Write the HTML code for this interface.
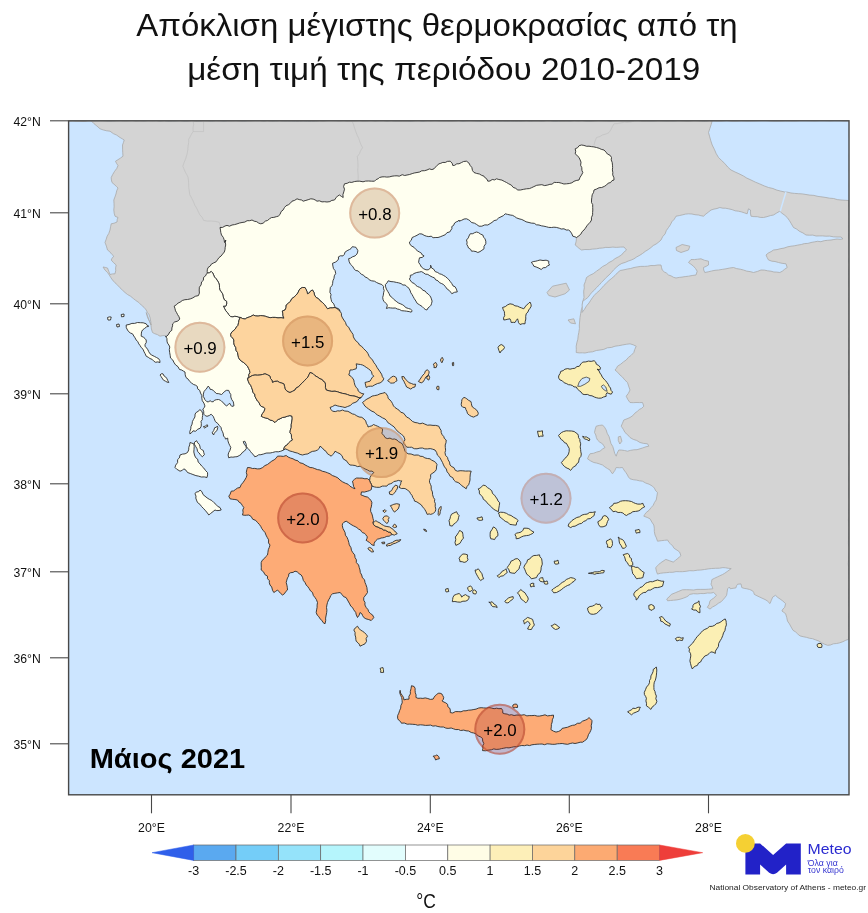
<!DOCTYPE html>
<html><head><meta charset="utf-8"><title>Map</title>
<style>html,body{margin:0;padding:0;background:#fff}svg{display:block;font-family:"Liberation Sans",sans-serif}</style></head>
<body><div style="will-change:transform;transform:translateZ(0)"><svg width="868" height="913" viewBox="0 0 868 913">
<defs><clipPath id="fr"><rect x="68.5" y="121" width="780.5" height="674"/></clipPath></defs>
<rect width="868" height="913" fill="#fff"/>
<rect x="68.5" y="121" width="780.5" height="674" fill="#cce5ff"/>
<g clip-path="url(#fr)">
<g fill="#d4d4d4" stroke="#a9a9a9" stroke-width="0.8" stroke-linejoin="round">
<path d="M68.5,121.0 L72.4,120.6 L76.2,121.2 L79.7,120.9 L83.8,120.9 L87.3,121.0 L91.2,120.8 L93.8,123.5 L97.0,126.1 L100.0,128.8 L103.4,130.0 L106.8,130.8 L110.0,131.2 L113.3,133.6 L116.7,135.1 L120.0,137.5 L122.3,138.8 L124.2,140.0 L123.5,142.3 L122.5,145.0 L122.6,149.1 L122.7,152.3 L123.0,156.2 L120.3,158.2 L118.0,159.7 L115.5,161.2 L116.6,163.5 L118.0,165.5 L116.8,168.4 L114.6,171.3 L112.7,174.5 L111.2,177.5 L111.4,180.0 L112.0,182.5 L113.9,184.1 L116.3,186.3 L118.0,188.0 L116.7,190.8 L116.0,193.9 L115.0,196.8 L113.8,200.0 L114.0,203.2 L114.1,206.8 L113.8,210.0 L114.2,213.2 L115.0,216.2 L118.0,217.5 L117.2,219.7 L117.0,222.0 L114.1,223.2 L111.2,223.8 L110.6,226.7 L110.0,230.0 L108.8,233.4 L107.1,236.3 L106.1,239.5 L105.0,242.5 L106.4,246.1 L107.5,250.0 L109.7,251.7 L111.8,254.3 L113.8,256.2 L112.1,258.2 L111.2,260.0 L113.6,262.7 L116.2,265.0 L115.6,267.9 L115.7,270.6 L115.0,273.8 L112.6,273.9 L110.0,274.5 L108.8,271.4 L107.5,268.0 L105.2,267.4 L103.0,267.0 L105.1,270.2 L107.5,272.5 L109.3,275.0 L110.8,277.6 L112.5,280.0 L115.0,282.8 L117.7,285.2 L119.8,287.6 L122.5,290.2 L125.0,292.5 L127.5,294.5 L130.5,296.2 L133.3,298.5 L135.7,300.4 L138.8,302.5 L141.3,305.1 L144.0,307.3 L146.2,310.0 L147.5,312.7 L149.0,314.6 L150.0,317.5 L150.7,321.2 L151.2,325.0 L149.7,321.8 L148.5,319.1 L147.5,315.6 L146.2,312.5 L147.2,316.2 L148.4,319.1 L150.0,322.5 L151.0,325.6 L151.4,329.0 L152.5,332.5 L154.7,333.7 L157.4,334.6 L160.0,336.2 L162.9,335.6 L166.2,335.5 L169.8,333.5 L173.4,331.9 L176.9,329.7 L180.2,328.0 L183.7,326.2 L187.3,323.9 L190.6,322.6 L194.1,320.3 L197.7,318.3 L201.0,316.3 L204.6,314.6 L208.5,312.9 L211.7,311.2 L215.1,309.1 L218.8,307.1 L222.3,305.2 L225.5,303.7 L229.0,301.2 L232.7,299.4 L235.9,297.7 L239.9,295.8 L243.1,294.0 L246.3,292.0 L250.0,290.0 L253.2,288.1 L256.7,285.9 L260.0,284.0 L263.5,281.5 L266.9,279.9 L270.3,277.4 L273.8,275.3 L277.0,273.5 L280.6,271.5 L284.0,269.8 L287.1,267.4 L290.7,265.5 L294.2,263.5 L297.4,261.2 L301.1,259.4 L304.3,257.3 L307.8,254.9 L311.3,252.9 L314.6,251.4 L318.2,249.1 L321.9,247.1 L325.0,245.3 L328.3,242.6 L331.9,241.3 L335.2,239.1 L338.7,236.8 L342.1,234.5 L345.4,233.1 L348.7,230.6 L352.1,228.5 L355.7,226.1 L359.1,224.8 L362.2,222.5 L365.9,220.7 L369.0,218.5 L372.7,216.3 L376.1,214.2 L379.6,211.8 L382.8,210.6 L386.2,208.3 L389.7,206.3 L393.0,204.2 L396.3,201.8 L400.0,200.0 L404.0,199.9 L407.8,200.0 L411.5,200.1 L415.4,199.6 L419.3,200.0 L423.6,199.8 L427.1,199.8 L431.3,199.8 L435.1,200.1 L439.1,200.2 L443.0,199.6 L446.5,199.8 L450.5,199.9 L454.4,199.8 L458.6,200.0 L462.0,200.1 L466.2,199.8 L470.1,200.0 L473.8,199.9 L477.6,200.1 L482.0,200.1 L485.7,199.9 L489.6,200.4 L493.3,200.4 L497.5,200.2 L500.9,200.1 L505.3,199.9 L509.0,200.0 L512.9,201.3 L516.1,202.9 L519.9,204.2 L523.5,205.4 L527.0,207.5 L530.9,208.9 L534.8,210.0 L538.2,212.1 L541.5,213.5 L545.4,214.4 L549.0,216.3 L552.9,217.6 L556.5,218.9 L560.3,220.4 L564.0,221.9 L567.5,223.8 L571.0,225.0 L572.6,227.8 L573.8,231.1 L575.3,234.2 L576.5,237.5 L576.2,241.2 L575.2,245.0 L577.1,246.6 L579.1,248.4 L581.5,250.0 L584.9,249.5 L589.2,249.6 L592.5,249.1 L596.5,248.8 L599.7,248.2 L602.6,248.0 L605.8,247.4 L609.0,247.5 L612.9,247.1 L616.3,247.4 L620.5,247.1 L624.0,247.0 L626.5,250.0 L623.6,252.4 L621.5,255.0 L618.5,256.8 L615.1,258.6 L612.3,260.8 L609.0,262.5 L606.2,264.7 L602.6,266.5 L599.5,269.1 L596.5,271.2 L593.2,273.7 L589.6,275.4 L586.5,277.5 L585.4,281.5 L584.0,285.0 L584.3,287.8 L583.7,291.1 L583.8,294.2 L584.0,297.5 L582.8,301.2 L582.4,303.9 L582.5,306.2 L581.3,309.8 L580.6,313.8 L580.0,317.5 L579.7,321.0 L579.3,325.0 L579.4,328.6 L578.8,332.5 L578.2,335.7 L577.8,339.3 L576.8,342.9 L576.2,346.2 L576.3,349.6 L576.2,352.5 L579.3,352.9 L582.3,352.8 L585.0,353.0 L588.6,352.2 L592.5,351.8 L596.3,350.5 L600.0,350.0 L603.7,349.4 L607.4,347.8 L611.6,347.4 L615.0,346.2 L618.8,345.7 L622.3,345.0 L626.2,344.3 L630.0,343.8 L633.2,344.8 L636.2,346.2 L634.7,349.6 L633.8,352.5 L631.3,355.2 L628.5,357.3 L626.2,360.0 L623.4,361.9 L620.7,364.2 L617.5,366.2 L616.5,368.2 L615.0,370.0 L617.7,372.3 L620.0,375.0 L622.5,377.1 L625.0,380.2 L627.5,382.5 L628.6,386.0 L630.0,390.0 L628.4,393.3 L626.2,396.2 L628.0,399.8 L630.0,402.5 L633.2,402.7 L636.0,402.5 L639.7,402.6 L642.5,402.5 L643.8,406.2 L641.7,408.3 L639.3,409.5 L637.5,411.2 L634.7,413.3 L632.8,415.6 L630.0,417.5 L627.0,418.8 L623.8,420.0 L622.5,423.2 L621.2,426.2 L623.2,429.1 L625.0,432.5 L627.9,435.0 L630.0,437.5 L633.3,439.4 L636.6,440.4 L640.0,442.5 L643.6,443.4 L647.5,443.8 L648.8,446.2 L645.8,446.8 L642.8,447.9 L640.0,448.8 L637.0,449.7 L633.8,449.8 L630.4,450.4 L627.5,451.2 L624.5,450.5 L621.5,450.1 L618.8,450.0 L617.2,453.1 L616.2,456.2 L614.7,453.4 L613.8,450.0 L612.8,446.6 L610.9,443.4 L610.0,440.0 L609.1,436.7 L607.2,433.3 L606.2,430.0 L604.5,427.2 L602.5,425.0 L599.4,425.4 L596.2,426.2 L595.2,429.2 L594.5,432.5 L595.8,435.0 L596.4,437.7 L597.5,440.0 L599.7,442.1 L602.5,443.8 L603.6,445.5 L605.0,447.5 L602.5,449.0 L600.0,451.2 L596.8,452.0 L593.7,453.2 L590.0,453.8 L588.7,456.0 L587.5,458.8 L590.4,460.8 L593.8,462.5 L596.8,463.1 L599.4,463.9 L602.5,465.0 L604.8,466.8 L607.5,468.6 L610.0,470.0 L610.9,471.8 L612.5,473.8 L614.8,470.5 L616.2,467.5 L619.4,467.8 L622.5,467.5 L623.9,469.9 L625.9,472.6 L627.5,475.0 L628.4,476.9 L630.0,478.8 L633.2,479.7 L636.5,480.1 L639.4,480.8 L642.5,481.2 L645.8,483.1 L649.1,484.2 L652.5,486.2 L654.4,488.1 L655.7,490.8 L657.5,492.5 L656.9,496.1 L656.2,500.0 L654.5,502.4 L653.2,505.3 L651.2,507.5 L649.0,510.3 L646.2,512.5 L644.7,514.5 L643.8,516.2 L647.1,517.4 L650.0,518.8 L651.8,522.0 L653.8,525.0 L654.3,528.2 L654.3,531.4 L655.0,535.0 L656.4,537.9 L657.5,541.2 L661.2,540.7 L664.5,540.3 L667.6,540.0 L668.9,542.3 L670.4,543.7 L672.7,546.0 L674.1,548.3 L677.1,550.2 L679.6,552.0 L680.9,555.7 L679.4,557.0 L677.8,558.4 L675.4,560.4 L673.2,562.1 L669.4,560.7 L665.8,559.4 L663.0,561.3 L660.3,563.0 L657.8,565.5 L655.7,567.6 L656.4,571.2 L657.5,574.1 L660.2,573.3 L663.4,572.9 L666.2,572.7 L669.5,572.3 L672.8,572.3 L676.1,571.6 L679.6,571.7 L682.5,571.7 L686.1,571.3 L689.7,570.7 L693.3,570.8 L697.4,570.2 L700.9,570.0 L704.5,569.5 L708.3,568.9 L711.7,568.5 L715.4,568.3 L719.5,568.2 L722.9,567.6 L725.7,567.8 L728.3,568.3 L731.2,568.6 L727.9,571.0 L724.8,573.2 L722.6,574.5 L719.7,575.8 L717.4,576.9 L714.7,578.2 L711.9,579.6 L711.5,582.3 L711.0,584.2 L712.1,586.3 L712.8,588.8 L708.5,589.2 L705.1,589.4 L700.8,589.4 L696.9,589.4 L693.7,590.0 L689.8,589.8 L686.3,589.7 L682.4,589.8 L678.8,591.3 L675.2,592.8 L671.3,594.4 L669.0,597.0 L666.7,599.0 L667.6,600.8 L670.6,600.5 L673.5,600.2 L676.9,599.9 L680.2,599.2 L683.3,598.2 L686.1,597.1 L688.0,596.1 L689.8,594.4 L693.5,593.7 L697.5,593.9 L700.8,593.5 L703.9,593.6 L707.5,593.0 L710.7,593.1 L713.7,592.5 L716.5,595.3 L713.7,598.1 L711.6,599.5 L710.0,600.8 L709.1,604.5 L707.3,607.3 L710.0,609.1 L712.5,607.0 L715.6,605.4 L718.3,603.3 L721.1,601.8 L723.0,599.8 L724.8,597.7 L726.6,595.3 L727.1,592.3 L727.6,588.8 L729.4,587.0 L730.3,588.8 L733.0,588.3 L735.9,587.9 L736.5,585.8 L737.7,584.2 L741.0,583.9 L741.8,587.6 L744.3,588.4 L746.9,588.8 L749.6,589.5 L752.4,590.7 L753.7,592.4 L754.3,594.4 L757.0,595.8 L759.8,597.1 L762.1,598.2 L765.0,599.5 L767.2,600.8 L770.0,603.6 L771.3,600.4 L772.7,597.1 L775.5,595.3 L777.8,597.5 L780.1,599.0 L782.8,601.0 L785.6,603.6 L784.7,607.3 L782.9,609.1 L781.9,611.0 L783.7,612.3 L785.6,613.7 L786.7,617.3 L787.5,621.1 L789.5,624.0 L791.1,627.0 L793.0,630.3 L795.7,632.0 L797.8,634.1 L800.0,635.9 L803.1,636.7 L806.3,637.3 L809.3,638.2 L812.5,638.7 L815.7,639.9 L819.0,641.1 L821.4,642.7 L824.5,644.2 L827.6,645.3 L830.4,645.0 L833.4,643.8 L836.6,643.5 L839.5,642.9 L842.9,641.7 L845.7,640.3 L848.6,639.3 L848.9,635.4 L848.9,631.4 L848.5,627.5 L848.5,623.2 L848.7,619.2 L848.5,615.6 L849.0,611.6 L848.9,607.6 L848.5,603.5 L848.6,599.6 L848.8,595.2 L848.5,591.3 L848.9,587.3 L849.0,583.5 L848.8,579.6 L848.7,575.6 L848.5,571.8 L848.6,567.6 L848.3,563.7 L848.6,559.5 L848.7,555.6 L849.1,551.7 L849.1,547.6 L848.4,543.9 L848.5,539.6 L848.7,535.7 L848.8,531.8 L848.9,527.6 L848.7,523.8 L848.4,519.9 L849.0,515.7 L848.6,511.5 L848.9,507.8 L849.1,503.7 L849.1,499.6 L848.8,496.0 L848.7,491.9 L848.7,487.5 L849.1,484.0 L848.5,480.0 L848.7,475.6 L848.9,471.9 L849.1,468.0 L848.7,464.0 L848.5,459.8 L848.8,455.9 L849.1,452.2 L848.8,447.6 L848.8,444.2 L849.0,439.8 L849.1,436.0 L848.8,431.8 L848.6,427.8 L848.7,423.8 L849.2,420.1 L848.7,415.9 L848.8,412.1 L848.6,407.8 L848.8,404.2 L848.8,400.2 L849.1,396.3 L848.5,392.2 L848.7,388.4 L849.0,384.4 L848.7,380.0 L848.7,376.3 L848.4,372.0 L849.1,368.0 L849.1,363.9 L848.9,360.4 L849.0,356.5 L848.5,352.0 L849.1,348.3 L849.0,344.3 L848.6,340.2 L849.2,336.5 L848.7,332.5 L848.8,328.1 L848.9,324.3 L848.8,320.3 L849.1,316.1 L848.7,312.5 L849.0,308.4 L848.9,304.2 L848.6,300.4 L848.9,296.5 L848.8,292.6 L849.1,288.7 L848.7,284.4 L848.6,280.6 L848.9,276.2 L848.6,272.7 L848.8,268.6 L849.3,264.7 L848.6,260.5 L849.2,256.6 L848.8,252.7 L848.9,248.9 L848.9,244.7 L848.8,240.8 L848.5,236.8 L848.7,232.5 L848.6,228.8 L848.7,224.5 L848.8,220.9 L849.2,216.6 L848.8,212.4 L849.0,208.7 L848.6,204.8 L848.8,201.0 L848.9,196.9 L849.1,192.7 L849.1,188.6 L849.2,184.7 L849.2,180.5 L849.2,176.7 L849.0,173.1 L848.8,169.1 L849.2,165.1 L849.4,160.8 L848.9,156.9 L849.0,152.8 L849.1,149.0 L849.4,144.9 L849.2,141.2 L848.8,137.2 L848.9,133.0 L848.9,129.1 L849.1,124.9 L849.0,121.0 L844.9,121.3 L841.3,120.7 L836.9,120.7 L832.9,121.2 L829.3,121.0 L825.2,121.4 L821.0,121.2 L817.4,121.1 L812.9,120.7 L809.4,121.3 L805.1,120.7 L801.3,121.1 L797.2,121.1 L793.2,120.8 L789.6,121.1 L785.5,120.8 L781.4,120.8 L777.3,120.6 L773.3,121.1 L769.2,121.0 L765.5,120.6 L761.5,120.8 L757.7,120.9 L753.3,120.6 L749.6,120.9 L745.4,120.8 L741.2,120.7 L737.8,120.8 L733.5,120.8 L729.4,120.8 L725.8,121.2 L721.7,121.2 L717.6,121.3 L713.7,121.4 L709.5,120.8 L705.5,121.4 L701.4,121.2 L697.7,120.8 L693.8,120.7 L689.7,121.1 L685.6,121.1 L682.0,120.9 L677.9,120.8 L673.9,121.2 L669.9,121.1 L665.9,121.2 L661.8,121.0 L658.0,120.8 L653.9,121.2 L650.0,121.2 L646.2,121.1 L642.0,121.1 L638.2,120.7 L634.0,120.8 L630.2,121.2 L625.9,120.9 L622.3,120.9 L618.0,120.7 L614.0,120.9 L610.2,121.3 L606.3,121.0 L601.8,120.9 L598.4,120.7 L594.0,121.0 L590.0,121.3 L586.0,121.2 L582.0,120.6 L578.0,120.9 L574.3,120.6 L570.1,121.2 L566.1,121.0 L562.0,121.1 L558.4,121.2 L554.2,121.4 L550.3,120.8 L546.4,120.7 L542.5,121.3 L538.4,121.0 L534.3,121.0 L530.7,121.3 L526.3,120.9 L522.2,121.3 L518.4,121.3 L514.7,121.3 L510.5,121.2 L506.8,121.3 L502.4,121.2 L498.8,121.2 L494.5,120.8 L490.9,121.2 L486.3,120.6 L482.5,121.1 L478.6,121.4 L474.7,121.0 L470.6,120.8 L466.6,120.9 L462.8,121.4 L458.8,120.6 L454.9,121.0 L450.6,121.1 L446.8,121.0 L442.9,121.0 L438.7,120.9 L434.6,120.6 L430.9,120.9 L427.1,120.7 L422.6,121.4 L418.9,120.7 L415.0,120.8 L411.2,121.4 L407.0,121.1 L402.9,121.1 L399.0,121.1 L394.9,121.2 L391.2,120.7 L387.2,121.2 L383.1,120.6 L379.1,120.7 L375.1,121.1 L371.3,120.6 L367.2,120.9 L363.3,121.0 L359.1,120.6 L355.1,120.9 L351.5,120.9 L347.1,121.1 L343.6,120.7 L339.0,121.0 L335.3,120.7 L331.6,120.6 L327.3,120.7 L323.4,121.1 L319.6,120.9 L315.7,121.3 L311.4,121.4 L307.4,121.4 L303.5,121.2 L299.7,121.3 L295.6,121.4 L291.3,121.2 L287.4,121.2 L283.3,121.2 L279.4,120.8 L275.7,121.2 L271.5,121.3 L267.4,120.7 L263.9,121.3 L259.8,120.7 L255.5,120.7 L252.0,120.9 L247.4,121.0 L243.8,121.4 L239.8,121.1 L235.9,120.8 L231.7,121.0 L227.6,121.0 L224.0,121.4 L220.0,121.0 L215.8,120.8 L211.7,121.4 L207.8,121.0 L203.8,120.9 L200.0,121.2 L195.9,121.3 L191.8,120.6 L188.0,121.3 L184.0,121.4 L179.9,120.8 L176.2,121.2 L172.3,121.3 L167.9,121.4 L164.3,120.8 L159.9,121.3 L156.4,120.7 L152.2,120.9 L148.0,120.7 L144.2,121.2 L140.0,120.9 L135.9,121.1 L132.4,120.6 L128.1,120.9 L124.4,121.0 L120.0,120.7 L116.3,120.9 L112.4,121.2 L108.2,121.3 L104.1,120.9 L100.6,120.8 L96.3,121.0 L92.5,121.0 L88.1,120.7 L84.6,121.4 L80.2,121.2 L76.3,120.9 L72.3,121.1Z"/>
<path d="M547.0,292.5 L552.5,286.2 L566.2,283.2 L569.5,290.0 L565.0,293.8 L555.0,297.0 L548.8,295.5Z"/>
<path d="M568.0,320.0 L573.8,318.8 L575.5,323.8 L570.5,323.0Z"/>
</g>
<g fill="#cce5ff" stroke="#a9a9a9" stroke-width="0.8" stroke-linejoin="round">
<path d="M712.2,120.8 L711.2,124.4 L709.8,128.7 L708.5,132.5 L709.7,136.8 L710.8,140.8 L712.2,145.0 L714.3,149.2 L716.1,153.4 L718.5,157.5 L721.7,160.6 L724.7,163.4 L727.7,167.0 L731.0,170.0 L735.1,172.0 L738.9,173.7 L743.3,175.9 L746.8,178.1 L751.0,180.0 L755.5,182.2 L759.7,183.9 L764.2,185.9 L768.5,187.5 L772.9,188.5 L776.8,190.1 L780.4,191.0 L784.8,192.0 L787.7,192.2 L791.0,193.0 L794.6,193.4 L798.8,193.7 L802.2,193.9 L806.0,194.5 L809.7,195.1 L813.9,195.4 L817.9,196.4 L822.0,196.9 L826.0,197.5 L829.7,198.2 L833.6,198.5 L837.3,199.6 L841.0,200.0 L845.2,200.3 L849.5,200.5 L849.4,195.6 L849.4,190.5 L849.3,185.4 L849.5,180.4 L849.6,175.5 L849.3,170.6 L849.4,165.3 L849.4,160.3 L849.3,155.4 L849.7,150.7 L849.8,145.6 L849.6,140.6 L849.3,135.4 L849.3,130.7 L849.6,125.9 L849.5,120.8 L844.7,120.9 L839.5,120.6 L834.7,120.5 L829.7,120.7 L824.8,120.5 L820.1,120.5 L815.0,120.7 L810.4,120.6 L805.3,120.5 L800.5,120.5 L795.4,120.8 L790.8,120.8 L785.7,120.7 L780.7,120.9 L775.7,121.0 L771.0,120.9 L766.1,120.5 L761.3,120.5 L756.6,120.7 L751.4,120.8 L746.5,120.9 L741.4,120.7 L736.7,121.0 L731.8,121.0 L726.7,120.5 L721.9,120.9 L717.3,121.0Z"/>
<path d="M582.0,312.5 L582.4,308.5 L582.1,305.1 L582.8,301.2 L585.5,299.3 L587.8,297.5 L590.0,294.7 L591.8,292.3 L594.3,290.2 L596.5,287.5 L599.0,285.3 L601.3,282.6 L603.9,280.0 L606.2,277.5 L609.0,275.0 L611.4,272.5 L613.7,269.8 L616.1,267.5 L619.0,265.0 L621.9,263.4 L625.3,262.4 L628.1,261.1 L631.1,260.1 L634.0,258.8 L636.6,257.0 L639.9,255.2 L642.5,253.5 L645.2,251.4 L648.4,249.5 L651.0,247.5 L653.3,245.5 L656.1,244.0 L658.8,242.0 L661.0,240.0 L662.7,236.6 L665.1,233.9 L666.3,230.6 L668.5,227.5 L670.3,224.9 L671.9,221.7 L674.3,219.2 L676.0,216.2 L679.3,215.6 L682.3,214.9 L685.6,214.1 L688.5,213.8 L691.9,214.0 L695.1,214.7 L698.5,215.0 L700.9,215.7 L703.5,216.2 L705.9,214.0 L708.4,212.1 L711.0,210.0 L714.0,209.1 L717.0,208.5 L719.8,207.5 L722.8,208.2 L725.4,208.2 L728.5,208.8 L732.0,209.6 L735.2,210.8 L738.5,211.2 L741.5,211.9 L744.5,212.9 L747.2,213.8 L747.8,211.3 L748.5,208.8 L750.5,210.0 L750.4,213.1 L751.0,216.2 L753.9,216.6 L757.4,216.7 L760.2,217.4 L763.5,217.5 L766.9,216.7 L770.4,215.6 L773.5,215.0 L776.4,213.2 L779.8,211.2 L782.0,213.3 L784.8,215.3 L787.2,217.5 L789.5,220.7 L791.4,223.9 L793.5,227.5 L796.7,229.1 L799.6,231.4 L802.9,232.9 L806.0,235.0 L809.5,235.2 L812.8,235.1 L816.1,236.0 L819.5,235.9 L822.6,235.9 L826.0,236.2 L829.5,236.1 L833.4,236.8 L837.0,237.0 L841.0,237.0 L843.0,238.8 L840.1,239.3 L837.0,239.0 L833.9,239.5 L831.0,240.0 L827.6,240.3 L824.5,240.6 L820.9,241.7 L817.6,241.3 L814.3,241.9 L811.0,242.5 L807.9,243.4 L804.3,243.6 L801.3,244.5 L797.7,245.1 L794.3,245.8 L791.0,246.2 L787.7,246.8 L784.0,248.1 L780.8,248.6 L777.0,249.6 L773.5,250.0 L771.1,251.6 L768.2,253.1 L766.0,255.0 L767.2,257.6 L768.5,260.0 L771.9,261.2 L775.0,261.5 L778.5,262.5 L782.0,263.3 L786.0,263.8 L787.2,267.5 L784.7,269.2 L782.3,271.2 L779.8,272.5 L776.6,272.1 L773.9,272.0 L771.0,271.2 L767.6,270.8 L764.3,270.1 L761.0,270.0 L757.5,271.4 L753.5,272.5 L750.1,271.6 L746.6,271.1 L743.5,270.0 L740.2,269.2 L736.6,268.6 L733.5,267.5 L729.7,268.0 L726.0,268.8 L722.2,269.4 L718.5,270.0 L715.0,270.3 L711.5,271.0 L708.3,271.8 L704.8,272.5 L703.7,270.0 L703.5,267.5 L706.0,266.4 L708.5,265.0 L708.5,261.2 L704.5,260.3 L701.0,258.8 L697.5,259.2 L694.4,259.6 L691.0,259.5 L688.5,262.5 L690.9,264.2 L693.5,266.2 L695.5,268.5 L697.2,271.2 L696.0,275.0 L692.2,275.5 L688.5,276.2 L685.2,276.6 L682.0,277.1 L679.2,277.4 L676.0,278.0 L673.5,277.3 L671.1,275.9 L668.5,275.0 L666.4,273.0 L664.4,272.0 L662.2,270.0 L661.6,267.8 L661.0,265.0 L657.8,265.0 L654.1,265.6 L651.0,265.5 L647.5,266.2 L644.5,266.4 L640.8,266.4 L637.2,266.9 L634.0,267.5 L630.6,268.5 L627.4,269.0 L624.0,269.8 L620.2,270.5 L617.3,272.9 L615.0,275.5 L611.8,278.3 L609.0,280.5 L606.7,282.8 L603.8,285.6 L601.8,287.9 L599.1,290.9 L596.5,293.0 L594.2,295.4 L592.4,297.8 L590.7,300.3 L589.0,303.0 L586.5,305.9 L584.4,309.5Z"/>
</g>
<path d="M786.0,192.0 L783.5,200.0 L780.2,211.2" fill="none" stroke="#cce5ff" stroke-width="1.5"/>
<path d="M676.0,247.5 L682.2,244.5 L689.8,246.2 L688.5,250.0 L681.0,252.5 L676.5,250.5Z" fill="#d4d4d4" stroke="#a9a9a9" stroke-width="0.8"/>
<g fill="none" stroke="#c3c3c3" stroke-width="0.8">
<path d="M193.2,121.2 L193.6,124.6 L193.0,128.0 L193.2,131.6 L191.4,134.1 L190.3,136.5 L188.7,139.2 L188.7,142.5 L188.1,145.8 L187.8,149.6 L187.3,153.0 L186.4,156.5 L185.4,159.4 L184.0,162.7 L182.8,166.2 L183.9,168.8 L185.3,172.0 L186.7,174.5 L188.0,177.2 L188.5,180.8 L188.7,184.1 L188.7,187.4 L189.3,190.9 L189.7,194.5 L191.7,198.1 L193.3,201.3 L194.8,205.2 L196.6,208.1 L198.4,211.8 L199.8,214.8 L202.1,217.2 L203.6,220.4 L207.7,221.1 L211.3,221.0 L215.3,221.4 L219.1,222.2 L219.8,224.7 L220.9,227.3"/>
<path d="M203.6,121 L203.6,131.6 L193.2,131.6"/>
<path d="M352.2,121.2 L353.6,124.7 L354.6,128.2 L356.0,132.2 L357.4,135.7 L358.8,138.5 L359.9,142.0 L361.0,144.6 L362.6,147.8 L360.6,150.5 L359.5,153.6 L357.4,156.5 L357.7,160.0 L357.9,163.3 L358.0,167.0 L357.7,170.2 L358.1,173.9 L358.2,177.0 L358.1,180.7"/>
<path d="M634.0,121.2 L630.8,121.9 L627.6,122.4 L624.3,122.2 L620.8,122.9 L617.2,123.6 L614.0,123.8 L612.3,126.8 L610.8,129.8 L609.0,132.5 L605.9,134.1 L602.6,134.9 L599.9,136.5 L596.5,137.5 L595.0,141.3 L594.0,145.0"/>
</g>
<g stroke="#2c2c2c" stroke-width="0.9" stroke-linejoin="round">
<path d="M207.3,273.1 L207.2,271.4 L207.3,269.8 L208.0,267.6 L210.3,266.0 L211.3,264.2 L213.7,262.9 L216.1,261.8 L217.4,259.9 L219.0,257.6 L221.0,256.1 L222.6,254.1 L224.3,252.0 L225.0,249.7 L225.2,247.3 L225.7,245.0 L225.4,242.2 L225.8,240.0 L224.5,242.5 L224.2,239.9 L223.3,237.4 L221.5,235.0 L220.8,232.5 L220.5,230.1 L220.0,227.5 L222.6,227.4 L225.0,226.0 L227.0,225.4 L229.5,226.2 L232.0,225.0 L234.6,224.6 L237.0,223.9 L239.6,223.0 L242.0,222.5 L244.8,222.1 L247.1,220.7 L249.7,220.7 L252.0,220.0 L254.2,221.2 L256.7,221.7 L258.7,223.1 L260.8,223.8 L263.1,223.2 L265.4,221.1 L267.5,220.5 L269.5,218.8 L271.4,217.6 L273.8,217.4 L276.3,216.7 L278.2,216.2 L280.0,214.5 L281.1,211.6 L283.0,210.1 L284.5,207.5 L286.0,205.8 L288.5,204.7 L290.3,203.3 L292.0,201.2 L294.6,200.4 L297.0,198.8 L299.2,199.6 L301.6,200.0 L303.2,201.2 L305.9,200.4 L308.2,199.7 L310.8,198.8 L313.2,199.1 L315.1,199.9 L317.0,201.2 L319.3,200.8 L322.0,201.9 L324.5,201.7 L327.0,202.0 L329.9,201.6 L331.8,200.4 L334.5,200.0 L336.0,197.8 L337.5,196.1 L339.5,195.0 L341.5,196.5 L343.2,197.5 L342.9,194.7 L343.8,191.9 L344.5,189.2 L343.6,186.6 L344.5,183.8 L347.2,183.3 L349.3,182.2 L351.8,182.4 L354.3,181.6 L357.0,181.2 L359.8,181.2 L363.0,181.8 L365.6,181.1 L368.7,181.0 L371.6,181.2 L374.5,181.2 L376.1,179.6 L378.2,178.7 L379.5,177.5 L382.0,176.9 L384.7,176.8 L386.8,177.1 L389.4,176.9 L392.0,176.2 L394.5,175.9 L397.0,175.8 L399.3,176.2 L402.2,174.7 L404.7,175.5 L407.0,175.0 L409.6,174.5 L412.2,173.6 L414.2,173.0 L417.0,172.5 L419.7,172.0 L421.7,170.8 L424.5,170.7 L427.0,170.0 L429.4,168.9 L431.9,169.6 L434.0,168.8 L435.6,167.0 L437.2,165.3 L439.0,163.8 L440.8,163.3 L442.8,162.4 L445.2,162.5 L447.4,161.4 L450.2,161.2 L452.1,163.2 L452.8,165.5 L454.7,165.3 L456.8,163.8 L459.0,163.8 L461.6,162.5 L463.6,161.5 L466.5,161.2 L468.9,163.0 L470.2,165.5 L471.8,167.4 L472.5,170.6 L474.0,172.5 L476.5,173.4 L479.4,174.0 L481.6,175.3 L484.0,176.2 L485.3,178.0 L487.0,179.2 L487.8,181.2 L490.0,181.0 L492.2,179.5 L494.6,179.9 L496.5,178.8 L498.8,179.5 L501.9,180.1 L504.3,181.4 L506.5,182.5 L508.7,183.8 L511.3,185.1 L513.2,187.4 L515.6,188.3 L517.8,190.0 L520.4,190.0 L523.7,189.3 L526.5,188.8 L529.4,188.6 L531.6,187.7 L533.9,186.6 L536.7,185.3 L539.0,185.0 L541.8,184.7 L544.7,185.6 L547.8,185.0 L549.9,184.3 L552.0,184.2 L554.2,182.4 L556.5,182.5 L558.8,182.5 L561.4,183.2 L563.9,184.0 L566.5,183.8 L569.3,183.5 L571.9,182.8 L574.0,181.3 L576.2,180.5 L579.0,180.0 L580.1,177.2 L581.5,175.1 L582.8,172.5 L581.9,170.3 L581.8,167.6 L580.6,165.3 L581.0,162.2 L580.2,160.0 L579.0,157.4 L577.1,155.5 L575.2,153.8 L575.7,151.3 L575.2,148.8 L577.6,147.7 L579.1,145.7 L581.5,145.0 L583.9,145.4 L586.7,146.3 L589.0,146.2 L591.3,146.6 L593.9,146.9 L596.5,147.5 L599.2,148.3 L601.2,149.3 L604.0,150.0 L606.0,152.1 L607.4,154.0 L610.2,155.4 L611.5,157.5 L611.2,159.9 L612.2,162.4 L612.5,165.2 L612.6,167.5 L612.4,169.9 L612.8,172.5 L612.7,174.9 L613.9,177.7 L614.0,180.0 L612.0,180.6 L610.5,182.6 L608.2,183.1 L606.5,185.0 L604.3,186.4 L601.7,187.5 L599.1,187.7 L596.6,189.0 L594.0,190.0 L593.6,192.3 L592.2,194.8 L591.8,197.5 L591.5,200.0 L591.5,202.6 L592.7,204.6 L592.7,207.5 L592.8,210.0 L592.6,212.5 L592.6,214.8 L591.4,217.7 L591.5,220.0 L590.2,222.2 L588.6,223.8 L586.9,225.8 L585.4,228.2 L584.0,230.0 L582.1,231.7 L580.8,234.2 L578.9,235.8 L576.5,237.5 L574.9,236.8 L572.8,236.2 L571.9,233.9 L570.2,231.2 L568.6,230.0 L566.2,230.0 L564.0,228.8 L561.2,229.0 L559.3,228.2 L556.3,227.4 L553.9,227.2 L551.5,227.5 L548.7,227.4 L546.6,226.8 L543.9,226.2 L541.4,225.8 L539.0,225.0 L536.4,224.8 L534.3,223.3 L531.3,223.1 L529.0,222.5 L526.1,221.8 L524.2,220.7 L521.8,219.5 L519.0,218.8 L516.6,217.9 L514.6,216.5 L512.7,215.4 L510.2,215.0 L507.6,214.4 L505.2,213.8 L503.3,215.7 L501.0,216.8 L498.6,218.0 L496.5,220.0 L494.1,220.6 L492.0,222.4 L490.1,223.6 L487.8,225.0 L484.8,224.9 L481.8,226.2 L479.0,226.2 L476.7,224.5 L474.5,223.2 L471.5,222.5 L469.9,220.7 L468.6,219.8 L466.5,218.8 L464.1,219.0 L461.4,220.4 L459.0,221.2 L459.2,220.0 L457.9,221.3 L456.4,221.8 L454.6,223.0 L453.5,225.5 L451.8,226.5 L451.9,228.6 L450.9,230.1 L449.7,232.0 L447.0,232.6 L445.3,234.7 L442.9,235.7 L440.2,236.8 L438.0,237.5 L435.9,237.5 L433.1,237.7 L431.2,236.2 L428.8,236.6 L426.4,236.2 L424.1,235.3 L422.0,234.0 L419.5,233.8 L417.0,235.3 L414.7,236.4 L412.2,237.5 L411.2,240.4 L409.4,242.1 L409.8,243.9 L411.2,245.8 L414.0,247.3 L415.9,249.5 L417.8,251.1 L419.4,252.0 L421.4,253.2 L422.3,255.0 L424.1,255.9 L422.2,257.4 L419.5,257.8 L419.0,259.8 L418.6,262.4 L420.0,264.4 L421.4,267.0 L423.7,268.8 L426.0,269.8 L428.2,269.8 L429.7,268.8 L430.8,267.1 L430.6,265.2 L431.5,267.9 L433.7,269.2 L435.2,271.6 L437.7,272.5 L439.6,273.8 L441.7,274.4 L443.4,275.4 L445.4,276.5 L447.2,278.1 L448.9,279.7 L450.3,281.6 L451.8,283.6 L453.0,285.9 L455.1,286.8 L456.4,289.1 L457.3,291.9 L454.5,292.3 L451.8,293.7 L450.6,292.1 L449.2,290.4 L447.2,289.1 L445.5,286.8 L443.5,284.5 L441.7,283.6 L439.6,282.7 L438.0,280.8 L435.7,279.9 L434.4,277.8 L432.4,277.1 L429.9,275.8 L427.8,274.4 L425.3,274.1 L423.2,272.5 L421.4,271.6 L419.5,272.0 L416.7,272.5 L414.0,273.5 L412.4,274.8 L410.3,275.3 L410.3,277.5 L409.4,279.0 L410.8,281.0 L412.2,282.7 L414.2,283.4 L415.9,285.4 L417.5,286.5 L419.5,287.3 L421.5,288.5 L422.7,290.2 L425.1,291.0 L426.2,292.6 L428.0,293.9 L429.7,295.6 L430.7,297.0 L431.4,298.9 L432.1,301.1 L431.6,303.3 L431.0,305.2 L429.7,306.6 L428.0,308.0 L426.9,310.0 L425.2,309.4 L424.1,308.5 L422.1,306.5 L419.5,304.8 L417.2,303.4 L415.9,301.1 L414.3,298.7 L413.1,296.5 L412.1,294.6 L410.8,292.8 L410.3,291.0 L409.0,288.3 L406.6,286.4 L405.1,285.0 L402.9,285.0 L401.1,283.6 L398.5,282.8 L396.3,282.4 L393.7,281.8 L391.0,281.6 L388.2,280.8 L387.0,282.9 L385.4,284.5 L385.6,286.8 L386.4,289.1 L387.7,291.3 L389.1,293.7 L390.1,296.0 L391.9,297.3 L393.7,299.3 L396.2,301.3 L398.3,302.9 L400.2,303.7 L402.3,304.6 L403.9,305.7 L406.0,307.7 L408.5,308.5 L410.6,309.2 L412.2,310.7 L411.2,312.2 L409.2,311.6 L406.6,311.2 L404.3,310.9 L401.7,310.7 L399.3,309.4 L397.3,309.0 L395.3,308.0 L392.8,308.1 L390.4,307.9 L388.7,307.7 L386.4,308.5 L387.3,305.7 L386.9,304.2 L385.4,302.9 L383.9,301.3 L383.1,299.8 L382.7,297.4 L383.3,295.2 L383.6,292.8 L384.2,290.5 L383.4,288.3 L383.6,286.4 L381.8,284.5 L379.0,283.6 L376.6,282.5 L374.5,281.2 L371.6,280.8 L369.2,279.8 L367.5,277.9 L365.2,277.1 L363.7,275.3 L361.3,274.2 L359.6,272.5 L358.1,270.9 L355.6,270.5 L354.1,268.8 L352.5,266.2 L350.4,264.2 L349.2,261.8 L348.6,258.7 L350.6,258.1 L352.3,256.9 L355.1,255.9 L356.9,254.1 L357.7,252.1 L357.8,250.4 L356.9,248.9 L355.9,247.3 L354.3,247.0 L352.3,246.7 L351.0,248.6 L349.5,249.5 L347.1,250.7 L344.9,252.3 L344.4,254.3 L343.0,255.9 L340.4,255.8 L338.4,256.9 L338.5,259.0 L337.5,260.6 L335.3,262.2 L332.5,263.3 L332.9,266.1 L333.5,268.7 L335.1,270.6 L335.7,273.5 L334.3,275.8 L334.0,278.3 L332.9,280.8 L332.6,283.6 L332.0,285.6 L330.3,287.6 L330.1,290.0 L329.9,292.4 L331.0,294.5 L330.6,296.9 L331.1,299.3 L331.7,301.7 L333.8,303.9 L334.7,306.6 L336.5,308.1 L338.4,308.5 L339.6,309.9 L340.0,311.2 L338.4,309.8 L337.0,308.6 L335.0,307.5 L332.2,307.9 L330.2,307.9 L327.5,308.8 L325.9,306.6 L324.5,304.6 L322.5,302.5 L320.1,300.8 L318.5,298.7 L316.2,297.5 L314.5,295.1 L314.0,292.5 L312.5,290.0 L310.8,290.8 L309.3,292.9 L307.5,293.8 L306.9,291.3 L306.0,289.3 L305.0,287.5 L302.3,287.5 L300.0,288.8 L298.7,291.0 L297.9,292.9 L296.2,295.0 L294.1,297.0 L291.8,298.7 L290.4,301.3 L288.6,303.1 L286.2,305.0 L286.0,307.8 L285.0,310.0 L282.3,311.0 L282.8,313.2 L283.0,315.9 L283.9,318.2 L281.1,317.7 L278.0,317.9 L275.2,317.4 L272.6,317.4 L270.2,317.7 L267.7,317.1 L265.2,316.2 L262.9,315.8 L260.6,315.6 L258.1,316.1 L255.5,315.9 L253.2,315.0 L251.1,316.3 L249.3,317.0 L246.9,317.8 L245.2,319.0 L242.7,318.6 L240.3,317.4 L240.3,317.4 L238.9,317.4 L237.1,316.6 L234.8,316.3 L232.8,316.9 L230.6,316.6 L228.7,314.6 L227.4,312.6 L225.7,310.7 L224.4,308.2 L223.4,306.1 L225.8,306.1 L226.7,304.0 L226.6,301.3 L224.2,299.7 L223.2,296.8 L222.6,293.8 L221.0,291.6 L219.8,289.9 L219.5,287.5 L219.4,285.2 L218.7,282.8 L217.6,280.9 L216.1,278.7 L214.5,277.1 L213.6,274.9 L212.7,272.9 L211.3,271.5 L209.4,272.8 L207.3,273.1Z" fill="#fffff0"/>
<path d="M207.3,273.1 L209.4,272.8 L211.3,271.5 L212.7,272.9 L213.6,274.9 L214.5,277.1 L216.1,278.7 L217.6,280.9 L218.7,282.8 L219.4,285.2 L219.5,287.5 L219.8,289.9 L221.0,291.6 L222.6,293.8 L223.2,296.8 L224.2,299.7 L226.6,301.3 L226.7,304.0 L225.8,306.1 L223.4,306.1 L224.4,308.2 L225.7,310.7 L227.4,312.6 L228.7,314.6 L230.6,316.6 L232.8,316.9 L234.8,316.3 L237.1,316.6 L238.9,317.4 L240.3,317.4 L239.0,320.2 L238.6,322.5 L237.9,325.5 L236.6,326.8 L235.2,329.1 L233.9,330.3 L231.8,332.0 L230.6,334.4 L231.1,336.5 L232.7,338.1 L233.9,340.0 L233.8,342.5 L234.2,345.0 L235.8,347.6 L236.0,350.3 L237.5,352.5 L238.0,355.1 L238.5,357.6 L240.0,360.0 L242.0,361.5 L243.8,362.7 L245.9,364.6 L247.5,366.2 L248.6,368.5 L249.5,370.3 L250.0,372.5 L248.9,374.4 L248.8,376.6 L247.5,378.8 L248.3,381.3 L249.3,383.6 L250.7,385.3 L251.6,387.6 L252.5,390.0 L252.9,392.5 L254.7,394.0 L255.0,396.5 L256.2,398.8 L257.5,401.1 L259.0,402.4 L260.0,405.0 L261.2,406.4 L263.8,407.2 L265.0,408.8 L263.9,411.7 L262.4,413.6 L261.2,416.2 L263.5,417.4 L265.7,418.0 L267.9,418.5 L270.0,420.0 L272.5,420.6 L275.0,422.5 L276.6,420.8 L278.1,419.5 L280.0,418.8 L282.4,417.5 L284.9,417.1 L287.5,416.2 L289.9,415.6 L292.0,416.2 L292.2,418.8 L291.7,422.0 L291.2,424.7 L291.2,427.5 L290.3,430.1 L290.0,432.5 L291.4,434.6 L291.5,437.7 L292.5,440.0 L290.4,441.3 L288.5,443.1 L286.9,445.1 L285.0,446.2 L284.0,448.0 L283.8,450.0 L280.8,451.2 L278.3,451.8 L275.5,451.7 L272.5,452.5 L270.1,453.0 L268.0,453.0 L266.1,453.1 L263.5,454.0 L260.9,454.7 L258.6,454.8 L256.9,456.1 L254.7,456.7 L253.6,454.8 L252.0,453.5 L250.5,451.5 L249.4,450.0 L247.6,448.2 L246.4,446.4 L246.0,443.7 L244.8,441.2 L243.2,441.7 L244.3,444.3 L245.9,446.2 L246.4,448.4 L244.5,451.0 L242.2,452.6 L241.0,454.4 L239.2,455.6 L237.0,456.7 L235.2,456.8 L232.9,457.2 L231.0,457.0 L228.7,457.8 L228.1,455.0 L228.7,452.6 L230.0,450.3 L230.8,447.4 L229.7,445.3 L228.7,443.2 L227.9,440.7 L227.7,438.1 L225.6,439.1 L224.9,437.5 L223.5,436.0 L223.3,433.9 L222.5,431.7 L221.5,429.8 L221.1,427.6 L219.4,425.6 L217.8,423.5 L215.3,421.5 L214.2,418.6 L213.2,416.3 L211.1,414.2 L209.3,415.5 L207.0,416.3 L205.3,415.7 L203.8,414.2 L203.7,411.5 L202.8,409.0 L204.4,407.5 L204.9,405.9 L203.9,403.1 L202.3,400.7 L201.8,398.2 L201.8,395.6 L200.5,393.0 L199.7,390.4 L197.7,388.9 L197.3,386.4 L195.6,385.2 L193.6,384.5 L191.5,383.0 L189.8,381.5 L188.1,379.1 L186.0,377.5 L185.2,374.8 L185.0,372.0 L183.4,371.1 L181.7,370.0 L179.5,369.5 L178.0,366.7 L175.6,364.9 L174.2,362.9 L172.7,359.9 L170.5,358.0 L170.2,355.4 L169.7,352.7 L169.3,349.6 L169.8,347.0 L168.9,345.0 L167.5,343.1 L167.0,341.2 L166.9,338.4 L165.5,336.2 L166.1,336.8 L168.4,334.7 L169.7,332.0 L171.8,330.3 L171.9,327.9 L172.6,325.8 L172.6,323.9 L174.6,322.0 L177.8,321.1 L179.8,319.0 L178.9,316.6 L177.6,314.6 L176.6,312.6 L175.5,310.8 L174.9,308.3 L174.2,306.1 L176.4,304.8 L178.1,303.0 L180.1,302.2 L182.3,300.5 L184.9,299.7 L187.5,299.5 L190.3,298.9 L192.8,297.9 L195.3,296.3 L198.4,295.6 L199.4,293.1 L199.2,290.0 L199.4,287.2 L201.1,284.9 L201.6,281.9 L203.4,280.3 L203.5,277.5 L205.5,275.9 L206.5,273.9Z" fill="#fffff0"/>
<path d="M240.3,317.4 L242.7,318.6 L245.2,319.0 L246.9,317.8 L249.3,317.0 L251.1,316.3 L253.2,315.0 L255.5,315.9 L258.1,316.1 L260.6,315.6 L262.9,315.8 L265.2,316.2 L267.7,317.1 L270.2,317.7 L272.6,317.4 L275.2,317.4 L278.0,317.9 L281.1,317.7 L283.9,318.2 L283.0,315.9 L282.8,313.2 L282.3,311.0 L285.0,310.0 L286.0,307.8 L286.2,305.0 L288.6,303.1 L290.4,301.3 L291.8,298.7 L294.1,297.0 L296.2,295.0 L297.9,292.9 L298.7,291.0 L300.0,288.8 L302.3,287.5 L305.0,287.5 L306.0,289.3 L306.9,291.3 L307.5,293.8 L309.3,292.9 L310.8,290.8 L312.5,290.0 L314.0,292.5 L314.5,295.1 L316.2,297.5 L318.5,298.7 L320.1,300.8 L322.5,302.5 L324.5,304.6 L325.9,306.6 L327.5,308.8 L330.2,307.9 L332.2,307.9 L335.0,307.5 L337.0,308.6 L338.4,309.8 L340.0,311.2 L341.4,313.4 L341.5,315.9 L342.5,317.9 L343.8,320.0 L345.5,322.4 L346.4,325.3 L348.7,327.2 L350.0,330.0 L351.5,332.2 L353.0,334.3 L353.4,336.9 L354.5,339.0 L356.2,341.2 L358.3,342.8 L359.5,345.1 L361.6,346.3 L363.4,348.4 L365.0,350.0 L366.9,351.9 L368.0,353.7 L369.2,356.4 L370.6,358.0 L372.5,360.0 L374.0,362.8 L375.6,364.7 L377.2,367.7 L378.8,370.0 L380.1,371.9 L381.6,374.2 L382.4,376.7 L383.8,378.8 L382.5,381.2 L380.1,382.9 L377.6,383.5 L374.8,384.8 L372.5,386.2 L370.6,386.2 L368.4,386.4 L366.2,387.5 L365.6,385.1 L365.0,382.5 L367.6,381.8 L370.0,381.2 L371.1,379.3 L372.2,377.4 L373.8,376.2 L372.1,374.4 L371.5,371.7 L370.0,370.0 L368.3,368.7 L366.2,367.3 L364.3,366.0 L362.5,365.0 L360.5,364.5 L358.1,364.2 L356.2,363.8 L356.6,366.5 L356.2,368.8 L353.9,369.4 L352.5,369.9 L350.0,370.0 L349.6,372.4 L348.8,375.0 L351.1,376.4 L352.4,377.9 L353.8,380.0 L354.2,382.4 L354.9,385.1 L356.2,387.5 L357.8,388.9 L358.2,391.0 L360.0,392.5 L362.0,393.6 L363.8,393.8 L362.5,395.7 L361.2,397.5 L359.3,397.8 L356.8,396.9 L355.0,396.2 L352.2,395.8 L349.9,395.5 L347.6,394.6 L345.0,393.8 L342.5,393.4 L340.0,392.7 L337.6,391.8 L335.0,391.2 L331.8,391.4 L329.3,390.9 L326.2,390.0 L325.4,387.6 L325.5,384.9 L325.0,382.5 L323.2,381.2 L322.2,379.6 L320.0,378.8 L317.7,377.2 L315.0,375.7 L313.0,373.6 L310.0,372.5 L309.1,374.5 L307.9,377.1 L306.2,378.8 L304.4,380.7 L302.1,383.1 L300.0,385.0 L298.7,386.7 L296.1,388.0 L295.0,390.0 L292.6,391.3 L290.0,392.5 L288.2,391.9 L286.3,390.5 L285.0,388.8 L284.6,386.5 L283.8,383.8 L281.8,383.1 L279.7,382.5 L277.5,381.2 L274.7,381.4 L272.5,382.5 L271.9,380.0 L270.5,378.5 L270.0,376.2 L267.6,374.8 L265.0,373.8 L262.5,374.5 L260.0,375.0 L257.4,375.2 L255.0,375.0 L252.4,375.5 L249.9,376.9 L247.5,378.8 L248.8,376.6 L248.9,374.4 L250.0,372.5 L249.5,370.3 L248.6,368.5 L247.5,366.2 L245.9,364.6 L243.8,362.7 L242.0,361.5 L240.0,360.0 L238.5,357.6 L238.0,355.1 L237.5,352.5 L236.0,350.3 L235.8,347.6 L234.2,345.0 L233.8,342.5 L233.9,340.0 L232.7,338.1 L231.1,336.5 L230.6,334.4 L231.8,332.0 L233.9,330.3 L235.2,329.1 L236.6,326.8 L237.9,325.5 L238.6,322.5 L239.0,320.2Z" fill="#fdd49e"/>
<path d="M247.5,378.8 L249.9,376.9 L252.4,375.5 L255.0,375.0 L257.4,375.2 L260.0,375.0 L262.5,374.5 L265.0,373.8 L267.6,374.8 L270.0,376.2 L270.5,378.5 L271.9,380.0 L272.5,382.5 L274.7,381.4 L277.5,381.2 L279.7,382.5 L281.8,383.1 L283.8,383.8 L284.6,386.5 L285.0,388.8 L286.3,390.5 L288.2,391.9 L290.0,392.5 L292.6,391.3 L295.0,390.0 L296.1,388.0 L298.7,386.7 L300.0,385.0 L302.1,383.1 L304.4,380.7 L306.2,378.8 L307.9,377.1 L309.1,374.5 L310.0,372.5 L313.0,373.6 L315.0,375.7 L317.7,377.2 L320.0,378.8 L322.2,379.6 L323.2,381.2 L325.0,382.5 L325.5,384.9 L325.4,387.6 L326.2,390.0 L329.3,390.9 L331.8,391.4 L335.0,391.2 L337.6,391.8 L340.0,392.7 L342.5,393.4 L345.0,393.8 L347.6,394.6 L349.9,395.5 L352.2,395.8 L355.0,396.2 L356.8,396.9 L359.3,397.8 L361.2,397.5 L358.8,398.9 L357.3,401.3 L355.0,402.5 L352.5,403.3 L350.5,405.4 L347.4,406.6 L345.0,407.5 L342.6,406.9 L339.7,406.4 L337.2,405.8 L335.0,405.0 L332.5,406.5 L330.0,407.5 L331.0,409.5 L332.5,411.2 L335.3,411.6 L337.7,410.8 L339.9,411.0 L342.5,410.0 L344.7,411.0 L347.9,411.3 L350.0,412.5 L352.4,413.9 L354.5,414.4 L356.8,415.9 L359.1,417.0 L361.8,417.3 L364.0,419.0 L365.7,420.9 L366.5,423.8 L367.6,425.2 L368.0,427.0 L369.7,426.4 L371.9,425.8 L373.5,424.5 L375.3,425.3 L377.5,426.2 L379.9,427.5 L382.5,428.8 L382.4,431.3 L381.8,433.5 L383.8,435.3 L385.0,437.5 L387.2,438.6 L390.0,438.1 L392.2,439.2 L394.7,439.0 L397.0,440.0 L398.5,441.7 L400.2,442.5 L402.5,444.0 L403.3,446.3 L404.3,448.8 L405.0,451.2 L406.4,452.7 L408.2,453.8 L411.1,454.0 L414.2,455.2 L417.0,455.0 L418.6,455.2 L420.0,456.2 L422.8,456.5 L424.9,457.9 L427.4,458.5 L430.0,458.8 L431.6,460.1 L434.1,461.3 L435.6,462.4 L437.0,464.5 L436.5,467.0 L436.4,469.3 L435.3,471.2 L432.9,473.0 L430.6,474.6 L430.7,477.4 L429.5,480.4 L429.5,482.2 L430.5,484.5 L431.2,486.1 L431.2,489.2 L432.4,491.9 L432.6,494.7 L433.5,497.6 L434.7,499.3 L434.5,501.7 L435.3,503.4 L435.2,506.4 L435.8,509.2 L435.3,511.5 L433.5,513.2 L432.4,513.8 L430.6,514.4 L429.2,513.9 L427.2,514.4 L426.1,511.8 L424.9,509.7 L424.0,508.4 L422.6,506.9 L421.3,504.9 L419.1,503.4 L416.9,501.9 L414.5,501.1 L414.0,499.3 L412.8,497.6 L412.0,495.4 L410.5,493.6 L409.6,491.7 L407.6,490.2 L405.8,488.9 L404.1,488.4 L401.4,488.5 L399.0,487.3 L399.9,485.5 L400.7,483.8 L400.9,482.2 L401.8,480.9 L400.3,480.9 L398.4,480.4 L396.3,481.1 L393.8,481.5 L392.3,483.0 L390.3,483.8 L388.2,484.4 L386.9,486.1 L384.7,486.1 L382.3,486.1 L379.7,487.3 L376.5,487.3 L374.3,486.9 L371.9,486.1 L371.4,484.3 L370.2,482.3 L369.6,480.4 L370.0,477.5 L371.0,475.8 L372.2,474.2 L373.8,472.5 L372.0,471.1 L369.6,471.2 L367.5,470.0 L365.1,469.0 L362.5,467.6 L360.0,466.2 L357.5,466.6 L355.1,465.5 L352.8,465.2 L350.0,465.0 L348.2,463.4 L347.0,461.3 L345.0,460.0 L343.0,458.6 L342.1,455.8 L340.0,453.8 L337.3,452.5 L335.0,451.2 L334.1,453.2 L332.6,454.6 L331.2,456.2 L329.3,454.9 L327.5,453.8 L326.1,451.4 L323.9,449.9 L322.3,447.9 L320.0,446.2 L319.2,448.4 L317.5,450.0 L315.2,451.0 L312.3,451.4 L310.0,452.5 L307.9,453.9 L305.1,454.3 L302.5,455.0 L300.1,454.4 L297.5,453.1 L295.0,452.5 L292.7,451.7 L289.9,451.0 L287.2,449.6 L285.0,448.8 L283.8,450.0 L284.0,448.0 L285.0,446.2 L286.9,445.1 L288.5,443.1 L290.4,441.3 L292.5,440.0 L291.5,437.7 L291.4,434.6 L290.0,432.5 L290.3,430.1 L291.2,427.5 L291.2,424.7 L291.7,422.0 L292.2,418.8 L292.0,416.2 L289.9,415.6 L287.5,416.2 L284.9,417.1 L282.4,417.5 L280.0,418.8 L278.1,419.5 L276.6,420.8 L275.0,422.5 L272.5,420.6 L270.0,420.0 L267.9,418.5 L265.7,418.0 L263.5,417.4 L261.2,416.2 L262.4,413.6 L263.9,411.7 L265.0,408.8 L263.8,407.2 L261.2,406.4 L260.0,405.0 L259.0,402.4 L257.5,401.1 L256.2,398.8 L255.0,396.5 L254.7,394.0 L252.9,392.5 L252.5,390.0 L251.6,387.6 L250.7,385.3 L249.3,383.6 L248.3,381.3 L247.5,378.8Z" fill="#fdd49e"/>
<path d="M362.5,402.5 L364.5,400.9 L366.1,399.6 L368.0,398.5 L370.0,397.5 L372.1,396.1 L374.7,395.6 L377.6,395.0 L380.0,393.8 L382.8,393.2 L385.0,392.5 L386.4,394.0 L387.8,396.3 L388.1,398.3 L390.0,400.0 L391.5,401.8 L392.5,403.6 L393.5,405.9 L395.0,407.5 L397.2,409.0 L399.2,410.3 L400.8,412.3 L403.4,413.0 L405.0,415.0 L406.7,417.1 L408.8,418.1 L410.8,419.8 L412.4,421.4 L415.0,422.5 L417.6,422.9 L419.9,423.8 L422.6,423.1 L424.8,424.1 L427.4,425.2 L430.0,425.0 L433.0,425.4 L435.7,425.4 L438.8,426.2 L439.6,428.1 L441.1,430.4 L441.2,432.5 L442.2,434.8 L443.7,436.4 L444.3,438.3 L446.2,440.0 L446.0,442.7 L445.2,445.0 L445.3,447.4 L445.6,450.3 L445.0,452.5 L445.5,455.3 L447.5,457.4 L448.1,459.8 L449.5,462.1 L450.0,465.0 L451.9,466.7 L453.9,467.6 L455.3,470.3 L457.5,471.2 L460.1,470.7 L462.8,470.8 L465.6,471.1 L468.6,471.0 L471.2,471.2 L470.3,473.9 L470.0,477.3 L470.0,480.0 L469.4,482.5 L468.6,484.8 L467.1,486.3 L466.2,488.8 L463.9,487.1 L461.9,485.8 L460.0,483.8 L458.1,482.5 L455.5,481.7 L453.8,480.0 L452.7,477.6 L450.2,476.4 L448.8,473.8 L447.1,471.8 L446.3,469.0 L444.5,466.9 L443.5,464.9 L442.5,462.5 L441.2,460.1 L439.8,457.4 L437.4,455.1 L436.6,452.4 L435.0,450.0 L432.3,449.1 L430.2,448.6 L427.6,448.9 L424.8,448.9 L422.5,448.0 L419.9,448.1 L417.0,448.8 L414.3,448.7 L411.5,447.2 L409.4,447.3 L406.8,447.2 L405.1,444.9 L403.5,443.2 L403.8,441.4 L405.0,440.0 L404.3,437.8 L403.5,436.0 L401.5,434.4 L399.5,432.8 L397.1,430.9 L395.5,428.8 L394.1,426.9 L391.8,425.3 L389.8,423.8 L387.8,422.6 L386.5,420.4 L385.0,419.0 L382.4,417.8 L379.8,416.2 L377.5,415.0 L375.5,413.5 L374.2,412.1 L372.0,411.3 L370.0,410.0 L368.5,408.9 L366.5,407.4 L365.0,406.2 L363.7,404.2Z" fill="#fdd49e"/>
<path d="M228.8,496.2 L230.2,494.1 L231.2,491.2 L233.6,490.9 L235.6,489.4 L237.6,488.0 L240.0,487.5 L241.1,484.8 L243.2,482.3 L244.7,480.1 L246.2,477.5 L247.0,475.0 L246.3,472.5 L246.8,469.7 L247.5,467.5 L250.1,467.7 L252.5,468.5 L254.7,468.4 L257.3,468.9 L260.0,468.8 L262.7,467.5 L264.9,465.6 L267.6,464.4 L270.0,462.5 L271.8,461.1 L274.2,459.8 L276.2,458.1 L277.5,456.2 L280.5,456.1 L283.3,456.4 L286.2,455.5 L288.1,457.0 L290.4,458.0 L293.0,458.8 L295.0,460.0 L297.9,460.8 L299.9,462.8 L302.9,463.5 L305.0,464.9 L307.5,466.2 L310.1,467.5 L312.5,467.7 L314.8,468.6 L317.4,469.6 L320.0,470.0 L322.2,471.2 L325.2,471.9 L327.3,472.7 L330.0,473.8 L332.3,475.5 L335.3,476.6 L337.9,477.9 L340.0,480.0 L342.3,481.7 L345.3,483.2 L348.0,484.2 L350.0,486.2 L352.5,487.7 L355.0,488.8 L353.6,486.5 L353.1,483.8 L352.5,481.2 L354.6,479.2 L356.6,478.0 L359.2,478.1 L362.1,478.1 L364.9,478.8 L367.3,478.6 L369.6,480.4 L370.2,482.3 L371.4,484.3 L371.9,486.1 L371.5,487.9 L371.3,489.6 L369.5,490.6 L367.3,491.3 L364.3,492.1 L361.5,491.9 L360.9,494.8 L362.9,495.6 L365.0,496.5 L367.6,497.1 L369.6,498.8 L370.8,500.3 L371.9,502.3 L371.7,504.3 L371.3,506.9 L370.6,508.9 L370.7,511.5 L371.9,513.9 L372.5,516.1 L373.0,518.5 L373.6,520.7 L373.0,522.4 L373.6,524.7 L375.9,526.5 L378.0,527.0 L380.0,528.2 L381.9,528.7 L383.4,529.9 L385.4,530.2 L386.9,531.1 L388.3,532.0 L390.3,532.2 L392.1,534.5 L390.6,535.2 L389.2,536.2 L386.8,536.3 L384.6,537.4 L382.8,537.8 L381.1,538.0 L379.2,538.8 L377.6,539.1 L375.9,540.6 L374.8,542.0 L374.0,543.8 L374.2,545.5 L371.9,544.9 L370.8,543.7 L369.6,542.6 L367.6,541.3 L366.1,540.3 L366.9,538.7 L367.3,536.8 L365.6,534.5 L364.3,533.1 L362.7,532.8 L361.6,531.7 L360.4,529.9 L358.7,529.2 L356.9,527.6 L355.1,526.6 L353.5,525.9 L350.9,524.4 L348.8,522.9 L346.2,521.2 L344.0,522.2 L342.5,523.8 L342.3,525.7 L342.9,528.3 L343.8,530.0 L345.1,532.6 L345.4,535.2 L347.0,537.3 L348.0,539.7 L348.8,542.5 L349.3,544.9 L351.0,547.7 L351.4,550.2 L352.8,552.6 L354.7,554.9 L355.0,557.5 L356.4,559.8 L356.3,562.5 L358.6,565.0 L359.2,567.4 L360.0,570.0 L360.3,572.5 L361.7,575.0 L362.4,577.8 L364.5,579.7 L365.0,582.5 L365.9,584.6 L366.9,587.5 L367.2,590.2 L367.5,592.5 L366.5,594.0 L364.9,596.1 L363.8,597.5 L363.7,600.2 L365.0,602.4 L364.9,605.0 L366.2,607.5 L368.0,609.6 L368.7,611.7 L370.6,613.7 L372.5,614.9 L373.8,617.5 L372.4,619.3 L371.2,620.5 L368.8,619.6 L365.9,618.8 L363.8,617.5 L362.6,615.6 L361.9,613.9 L360.0,612.5 L359.2,615.1 L357.5,617.5 L356.3,614.9 L355.7,612.4 L353.7,609.8 L352.5,607.5 L350.8,606.2 L349.7,603.9 L348.6,602.0 L347.5,600.0 L346.1,597.6 L343.5,596.6 L342.0,594.4 L340.0,592.5 L337.4,592.9 L334.9,593.3 L332.5,593.8 L330.6,595.7 L329.9,597.8 L328.6,599.9 L327.5,602.5 L326.9,605.0 L326.5,607.5 L326.9,610.2 L326.7,612.4 L326.2,615.0 L325.6,618.1 L325.7,620.7 L325.0,623.8 L323.1,622.6 L321.8,620.3 L320.0,618.8 L318.9,616.7 L317.2,615.1 L316.2,612.5 L316.6,609.9 L317.1,607.3 L317.1,605.1 L317.5,602.5 L316.4,599.6 L315.1,597.7 L313.3,595.4 L312.5,592.5 L310.5,590.9 L309.1,588.5 L307.9,586.8 L306.2,585.0 L305.0,582.5 L303.3,580.4 L302.5,577.2 L301.2,575.0 L299.0,573.6 L297.2,571.8 L295.0,571.2 L293.1,572.4 L290.6,572.7 L288.8,573.8 L288.6,576.2 L287.5,577.9 L286.8,580.1 L286.2,582.5 L286.9,585.1 L287.3,587.3 L287.5,590.0 L285.9,591.4 L284.4,593.8 L282.5,595.0 L280.7,593.5 L279.3,591.9 L277.5,590.0 L275.4,591.5 L273.8,592.5 L272.5,590.2 L271.7,587.0 L270.0,585.0 L269.3,582.7 L269.4,580.7 L267.5,578.7 L267.5,576.2 L264.9,574.6 L263.5,571.8 L261.2,570.0 L261.3,567.3 L261.2,565.0 L261.2,562.5 L262.2,560.3 L264.2,558.7 L265.6,556.8 L267.5,555.0 L267.9,552.4 L268.3,549.7 L269.3,547.3 L270.0,545.0 L268.5,542.9 L268.6,539.8 L267.2,537.4 L266.0,535.1 L265.0,532.5 L263.4,530.7 L261.8,528.6 L260.7,526.3 L259.3,524.4 L257.5,522.5 L255.7,520.4 L252.7,519.2 L251.2,516.5 L248.8,515.0 L246.7,515.2 L244.9,515.3 L242.5,515.0 L243.1,512.4 L242.8,510.0 L243.8,507.5 L242.4,505.6 L241.0,503.3 L239.1,502.2 L237.5,500.0 L234.9,499.5 L232.7,499.3 L230.0,498.8Z" fill="#fdab76"/>
<path d="M400.1,690.3 L400.6,693.1 L402.2,695.3 L403.6,697.6 L403.9,699.9 L406.2,699.3 L409.0,699.1 L408.9,696.3 L410.4,693.9 L410.3,691.5 L411.0,688.7 L411.5,685.7 L414.1,686.5 L415.1,688.3 L415.1,690.4 L415.3,692.8 L416.1,694.9 L415.9,697.4 L417.9,698.3 L420.7,698.2 L422.9,698.4 L425.2,697.9 L427.8,698.5 L430.3,699.4 L433.1,699.1 L434.2,697.1 L435.6,695.3 L436.8,694.4 L438.2,693.3 L440.1,693.2 L442.0,694.1 L442.7,695.5 L443.7,697.4 L443.3,699.4 L442.0,700.9 L444.0,702.1 L445.8,702.9 L447.6,704.3 L447.9,706.8 L449.6,708.0 L450.3,710.0 L450.3,712.6 L452.8,713.0 L455.3,711.6 L458.2,711.6 L461.0,711.8 L463.3,710.8 L466.0,710.8 L468.3,710.2 L471.1,710.0 L473.9,709.5 L476.1,709.1 L478.7,708.0 L481.1,707.7 L483.5,707.9 L486.5,708.1 L488.8,707.5 L491.4,708.0 L494.1,708.7 L496.6,708.2 L498.9,708.7 L501.5,708.5 L502.7,710.5 L502.8,713.1 L504.8,713.8 L507.2,714.1 L509.1,715.1 L511.5,714.7 L514.1,715.5 L516.9,715.0 L519.1,715.1 L521.8,715.1 L524.2,714.7 L526.9,715.9 L529.2,715.6 L531.9,715.6 L534.7,715.4 L537.2,716.1 L539.3,716.1 L542.1,715.6 L545.0,714.8 L547.5,715.9 L550.5,715.5 L553.5,715.1 L553.5,717.3 L552.3,719.8 L552.2,722.0 L551.4,724.4 L551.3,726.9 L550.9,729.6 L553.5,731.2 L556.0,732.1 L558.7,731.4 L560.9,730.2 L562.1,728.4 L564.9,727.8 L567.7,727.2 L570.1,726.1 L572.5,725.3 L574.9,725.0 L577.4,723.3 L580.1,723.2 L582.4,721.2 L585.2,720.2 L587.1,719.4 L589.0,717.6 L590.7,719.1 L592.0,720.7 L591.8,723.0 L591.2,725.8 L591.5,728.3 L590.8,730.4 L589.7,732.7 L588.4,734.7 L587.7,737.2 L586.5,739.4 L584.5,740.8 L582.6,742.2 L580.2,742.2 L577.8,742.9 L575.0,743.5 L572.5,743.0 L570.2,743.5 L567.7,744.3 L564.9,744.0 L562.2,743.5 L559.7,743.7 L557.4,743.8 L554.9,744.3 L552.2,744.3 L549.8,744.0 L547.1,743.8 L544.5,744.7 L542.1,744.0 L539.7,744.1 L537.1,744.2 L534.2,744.5 L531.9,744.8 L529.5,745.6 L527.0,745.0 L524.5,745.7 L521.8,745.5 L519.3,746.0 L516.5,746.7 L513.9,746.8 L511.7,747.3 L509.0,747.9 L506.3,747.7 L503.8,748.2 L501.5,748.6 L499.3,749.2 L496.2,749.4 L493.8,748.9 L491.4,749.8 L488.2,750.2 L485.6,750.8 L482.5,750.6 L482.9,748.3 L482.7,745.9 L483.8,743.5 L482.7,741.1 L482.5,738.4 L480.2,736.7 L478.2,736.0 L476.2,733.9 L473.7,733.0 L471.3,732.5 L468.5,731.0 L466.0,730.8 L463.8,730.1 L460.6,730.5 L458.5,729.5 L455.8,729.6 L453.4,728.8 L451.2,728.0 L448.1,728.4 L445.8,728.1 L443.5,727.0 L440.7,727.0 L437.9,726.5 L435.6,725.8 L432.9,726.1 L430.7,725.1 L428.0,725.3 L425.5,725.4 L422.9,725.0 L420.4,724.8 L417.7,725.2 L415.3,724.5 L412.8,724.3 L409.8,724.1 L407.2,724.2 L404.3,723.0 L401.4,723.2 L400.5,721.5 L398.5,720.0 L397.6,718.2 L397.7,715.4 L398.8,713.2 L399.6,710.6 L400.7,708.2 L400.9,705.5 L402.2,702.9 L402.1,700.5 L401.7,697.5 L400.6,695.3 L399.7,692.7Z" fill="#fdab76"/>
<path d="M203.3,394.0 L204.1,391.4 L205.9,389.3 L207.0,388.0 L208.0,386.2 L209.5,387.4 L210.1,389.3 L211.9,389.6 L213.2,390.4 L214.9,392.0 L216.3,393.5 L218.8,393.7 L221.5,394.5 L223.1,393.1 L224.6,391.4 L226.6,390.3 L228.7,390.4 L229.7,392.8 L230.8,394.5 L230.8,397.0 L231.8,399.7 L233.3,401.8 L233.7,403.9 L233.9,405.9 L231.8,406.4 L230.6,405.0 L229.8,403.3 L228.4,404.4 L226.7,405.9 L224.6,404.5 L223.5,402.8 L221.7,401.5 L220.4,400.2 L218.5,399.5 L216.3,399.7 L214.4,400.3 L213.2,401.8 L211.6,401.7 L210.1,400.7 L208.8,401.7 L207.0,401.8 L204.9,399.7 L204.2,398.0 L203.3,396.6Z" fill="#cce5ff"/>
<path d="M126.2,325.0 L129.0,324.5 L131.9,323.4 L134.6,323.4 L137.5,322.5 L140.4,322.7 L143.2,322.8 L146.2,323.8 L147.2,325.4 L148.8,326.2 L146.5,326.9 L144.5,328.5 L142.5,330.0 L141.6,331.8 L141.3,333.9 L141.2,336.2 L143.3,337.1 L145.0,338.5 L146.2,340.0 L146.3,342.4 L145.1,344.4 L145.0,346.2 L146.6,348.0 L147.9,349.8 L148.7,351.6 L150.0,353.8 L151.8,355.1 L154.4,356.4 L156.5,357.5 L158.8,358.8 L159.8,360.6 L160.0,362.5 L157.8,361.9 L155.6,362.3 L153.8,361.2 L152.2,359.4 L149.9,358.5 L148.3,357.3 L146.2,356.2 L145.1,353.7 L144.1,351.9 L143.0,349.2 L141.2,347.5 L140.1,345.6 L138.8,343.9 L137.8,341.7 L136.2,340.0 L135.0,337.8 L133.8,336.0 L132.5,333.8 L130.4,333.0 L128.6,331.6 L127.5,330.0 L126.3,327.7Z" fill="#fffff0"/>
<path d="M160.0,375.0 L161.2,373.8 L163.0,373.8 L164.1,376.0 L165.6,376.9 L167.0,378.8 L167.7,380.4 L168.8,382.5 L167.0,382.1 L165.5,381.2 L163.5,380.2 L162.0,378.0 L161.0,376.4Z" fill="#fffff0"/>
<path d="M189.9,433.9 L189.8,431.6 L190.8,428.9 L190.9,426.7 L192.1,424.1 L192.4,421.6 L193.5,419.4 L194.9,417.0 L195.1,414.0 L196.6,412.1 L198.4,411.3 L199.7,409.6 L201.8,411.1 L202.5,413.3 L202.7,415.4 L202.3,417.3 L202.3,419.7 L201.0,421.3 L201.3,423.5 L201.2,426.2 L200.2,428.2 L197.6,429.3 L195.6,431.3 L193.0,430.8 L191.4,432.9Z" fill="#fffff0"/>
<path d="M175.0,467.5 L175.7,465.1 L177.6,462.6 L177.6,459.6 L179.4,457.9 L180.0,455.0 L182.6,454.1 L185.1,453.8 L187.5,452.5 L188.7,449.9 L188.8,447.3 L189.7,444.9 L190.0,442.5 L191.8,443.1 L193.8,443.8 L194.2,446.6 L194.0,449.4 L193.8,452.0 L194.5,455.0 L195.6,457.6 L197.6,459.1 L198.2,462.1 L200.0,463.8 L201.7,466.1 L203.8,468.1 L205.7,470.7 L207.5,472.5 L207.6,474.9 L207.0,477.5 L204.3,476.9 L201.3,477.0 L198.8,476.2 L195.9,475.6 L192.9,474.5 L190.3,473.5 L187.5,472.5 L186.1,470.3 L183.8,468.8 L182.4,470.3 L180.0,471.2 L178.1,470.0 L176.7,469.2Z" fill="#fffff0"/>
<path d="M194.5,442.2 L196.6,440.7 L197.7,442.8 L199.2,444.3 L199.9,446.1 L200.2,448.4 L201.6,449.6 L203.3,450.5 L203.8,452.7 L204.4,454.7 L202.3,456.7 L200.2,454.7 L199.2,453.0 L197.6,451.5 L197.0,448.7 L195.6,446.4 L194.4,444.2Z" fill="#fffff0"/>
<path d="M195.0,493.8 L196.3,492.0 L198.7,491.7 L200.0,490.0 L201.9,491.7 L203.0,494.5 L205.0,496.2 L207.1,497.9 L209.3,499.3 L211.8,500.5 L213.8,502.5 L215.9,504.3 L217.7,506.4 L220.0,507.5 L221.2,510.0 L219.0,510.5 L216.8,510.6 L215.0,510.0 L213.1,511.5 L210.7,513.4 L208.8,515.0 L207.4,513.0 L205.6,510.8 L203.8,508.8 L201.6,506.6 L199.9,504.3 L197.5,502.5 L196.5,500.1 L195.8,498.1 L196.0,496.1Z" fill="#fffff0"/>
<path d="M466.5,240.0 L468.3,237.9 L469.0,236.0 L470.2,233.8 L472.8,233.7 L474.3,232.8 L476.5,232.0 L478.5,232.6 L480.6,234.1 L482.8,235.0 L483.6,237.2 L485.0,238.8 L485.8,241.2 L485.8,243.7 L484.0,246.3 L484.0,248.8 L481.9,250.3 L480.0,251.6 L477.8,252.5 L476.0,251.6 L473.4,251.1 L471.5,251.2 L470.7,249.4 L468.5,248.0 L467.8,246.2 L466.8,244.4 L467.1,242.3Z" fill="#fffff0"/>
<path d="M531.2,262.5 L533.2,261.6 L535.8,261.2 L537.6,260.7 L540.0,260.0 L543.0,260.5 L546.1,260.2 L548.8,261.2 L548.7,263.4 L549.5,265.0 L547.4,266.0 L545.7,267.5 L543.1,267.8 L541.2,269.5 L539.0,268.2 L536.2,267.0 L533.8,266.2 L533.0,264.3Z" fill="#fffff0"/>
<path d="M107.5,317.5 L109.3,316.9 L111.2,317.0 L110.8,318.7 L110.5,320.0 L108.0,320.0Z" fill="#fffff0"/>
<path d="M121.2,314.5 L124.0,314.0 L124.0,316.5 L121.5,316.8Z" fill="#fffff0"/>
<path d="M116.5,324.5 L119.0,324.0 L119.5,326.5 L117.0,327.0Z" fill="#fffff0"/>
<path d="M203.3,426.7 L205.6,426.1 L207.0,424.6 L208.0,426.1 L206.2,426.9 L204.9,428.2Z" fill="#fffff0"/>
<path d="M212.1,432.9 L213.7,430.5 L214.7,427.7 L216.5,427.2 L217.3,426.1 L217.8,427.7 L217.1,430.1 L215.8,431.8 L214.1,433.2 L213.7,435.0Z" fill="#fffff0"/>
<path d="M502.5,307.5 L505.3,306.6 L507.5,304.9 L510.0,303.8 L512.9,304.4 L514.9,305.8 L517.5,306.2 L519.8,307.3 L521.5,307.9 L523.8,308.8 L525.1,306.9 L526.4,305.2 L528.5,303.5 L530.0,302.0 L531.0,304.3 L531.2,306.2 L530.0,308.3 L528.7,310.0 L527.9,312.0 L526.2,313.8 L525.7,316.4 L525.8,319.0 L525.2,321.5 L525.0,323.8 L522.5,323.7 L520.0,324.5 L518.5,322.6 L518.1,320.5 L517.5,318.8 L516.3,320.4 L515.0,322.5 L513.3,322.3 L511.2,322.5 L510.7,320.4 L510.0,318.8 L507.9,319.2 L505.9,319.7 L503.8,320.0 L503.5,317.8 L504.7,315.7 L504.5,313.8 L504.4,311.8 L503.3,309.8Z" fill="#fbefb4"/>
<path d="M498.0,347.5 L499.1,345.8 L501.2,344.5 L503.4,345.7 L504.5,347.5 L503.5,349.4 L501.1,351.0 L500.0,353.0 L498.9,350.5Z" fill="#fbefb4"/>
<path d="M558.5,377.1 L559.0,375.1 L560.1,373.6 L560.7,371.4 L563.2,370.6 L564.9,369.2 L567.7,368.6 L570.0,369.2 L572.8,368.5 L574.9,368.3 L577.0,366.5 L579.2,366.4 L580.9,363.9 L582.7,362.1 L585.8,361.9 L588.4,361.1 L591.2,361.4 L594.1,360.7 L595.7,362.1 L596.3,364.2 L598.7,365.5 L600.5,367.8 L599.8,369.9 L597.0,369.2 L599.0,370.8 L599.9,373.0 L601.3,374.9 L602.3,377.1 L604.0,379.1 L605.5,380.6 L606.9,382.4 L608.3,384.4 L609.1,386.3 L610.5,388.0 L611.0,390.4 L612.6,392.0 L611.2,394.2 L608.8,393.5 L607.0,392.7 L606.0,394.5 L606.2,396.3 L603.5,397.0 L601.3,398.1 L598.5,398.2 L596.3,397.7 L594.3,397.0 L592.0,395.8 L589.9,395.6 L587.4,394.4 L584.9,394.6 L582.7,394.2 L581.0,392.0 L579.2,390.6 L577.3,388.9 L576.3,387.0 L574.0,386.9 L572.7,385.7 L570.6,384.9 L568.5,384.7 L566.3,383.5 L564.2,382.8 L562.3,380.8 L559.9,379.9 L559.1,378.8Z" fill="#fbefb4"/>
<path d="M537.5,431.2 L540.2,431.3 L542.5,430.8 L542.5,433.5 L543.2,436.2 L540.7,436.1 L538.8,437.0 L538.0,433.9Z" fill="#fbefb4"/>
<path d="M558.5,435.5 L560.0,433.9 L561.4,432.6 L563.4,431.6 L566.2,430.8 L568.5,430.9 L571.6,431.0 L574.2,431.5 L575.9,432.8 L577.7,434.0 L578.4,435.7 L578.5,437.6 L579.8,439.4 L579.9,441.2 L580.7,443.8 L580.2,446.9 L580.6,449.4 L580.8,451.8 L581.3,454.0 L580.9,456.4 L579.4,458.1 L578.9,460.2 L578.5,462.5 L576.8,463.7 L575.5,466.0 L573.5,466.8 L572.0,468.7 L570.6,470.4 L569.0,468.9 L567.1,468.2 L564.7,466.7 L562.8,464.7 L561.4,462.5 L563.3,460.4 L564.9,458.3 L567.0,456.5 L568.5,454.0 L569.2,451.3 L569.2,448.3 L567.8,445.9 L566.4,443.3 L564.6,442.8 L563.1,440.7 L561.4,439.7 L560.0,437.8Z" fill="#fbefb4"/>
<path d="M582.7,436.2 L584.6,437.1 L586.3,436.9 L588.1,438.0 L589.9,439.0 L589.1,440.9 L586.9,439.5 L584.9,439.0 L583.3,437.8Z" fill="#fbefb4"/>
<path d="M478.2,488.9 L479.9,488.2 L481.7,486.8 L483.2,485.1 L485.5,485.7 L487.6,487.7 L489.6,488.9 L491.8,490.8 L492.5,493.5 L494.6,495.2 L495.7,496.9 L497.2,499.0 L498.0,500.9 L499.7,502.8 L499.3,505.5 L498.7,508.9 L498.4,511.7 L495.9,510.5 L493.4,509.1 L491.6,507.1 L489.0,504.7 L487.0,502.8 L485.6,500.8 L483.3,499.3 L482.6,496.8 L480.7,495.2 L479.3,493.2 L479.4,490.9Z" fill="#fbefb4"/>
<path d="M498.4,512.9 L500.6,512.2 L503.5,512.4 L506.4,513.3 L508.5,514.7 L511.1,515.5 L513.3,517.1 L516.2,518.7 L518.2,520.6 L516.7,522.5 L516.2,525.1 L514.2,525.0 L512.2,524.7 L509.8,524.4 L507.9,522.3 L505.8,521.6 L503.5,520.0 L501.6,518.1 L499.7,516.8 L499.2,514.6Z" fill="#fbefb4"/>
<path d="M514.9,534.5 L516.7,533.1 L518.8,532.7 L521.2,532.0 L523.0,530.2 L523.8,528.2 L526.1,528.2 L528.2,528.4 L530.1,529.4 L531.6,531.0 L533.9,532.0 L532.8,533.4 L530.7,534.4 L528.8,535.3 L526.4,535.6 L523.7,536.0 L521.2,537.0 L519.0,538.3 L516.2,538.8 L516.0,536.4Z" fill="#fbefb4"/>
<path d="M449.0,520.6 L450.0,518.8 L450.5,516.4 L451.5,514.2 L453.8,513.0 L456.6,511.7 L457.6,514.0 L459.1,515.5 L458.5,517.7 L458.0,520.1 L456.6,521.8 L455.3,523.2 L453.6,524.2 L452.3,526.1 L449.8,525.6 L449.5,522.9Z" fill="#fbefb4"/>
<path d="M476.9,518.0 L479.2,517.7 L482.0,516.8 L482.4,518.2 L482.7,520.0 L480.2,520.4 L478.2,520.0Z" fill="#fbefb4"/>
<path d="M455.3,537.0 L456.9,535.0 L458.5,532.5 L459.9,530.2 L460.9,531.5 L462.4,532.0 L462.9,534.3 L463.0,536.2 L463.5,538.3 L462.0,539.6 L460.9,541.7 L459.9,543.4 L458.1,544.3 L455.9,545.4 L455.0,542.6 L455.8,539.5Z" fill="#fbefb4"/>
<path d="M490.3,532.0 L492.0,529.5 L493.4,526.9 L495.4,528.0 L496.4,529.4 L497.4,531.6 L497.9,533.8 L497.9,535.8 L495.7,537.4 L494.6,539.6 L492.9,539.1 L490.8,538.8 L490.2,536.8 L490.1,534.5Z" fill="#fbefb4"/>
<path d="M459.1,558.6 L460.4,556.1 L462.9,554.0 L465.1,554.1 L467.5,554.8 L467.3,557.5 L468.0,559.8 L466.4,561.7 L464.2,562.4 L462.2,561.7 L459.9,561.6 L459.8,560.0Z" fill="#fbefb4"/>
<path d="M475.1,570.0 L476.9,569.9 L478.2,568.7 L479.3,570.2 L480.7,572.1 L482.0,573.8 L482.5,576.2 L483.7,578.8 L482.2,579.3 L480.7,580.6 L479.0,578.7 L477.6,576.3 L476.4,574.1 L475.6,572.5Z" fill="#fbefb4"/>
<path d="M452.3,601.7 L452.6,599.5 L453.0,597.3 L454.1,595.3 L456.7,594.2 L459.1,593.5 L460.8,595.0 L461.7,597.1 L463.2,595.7 L465.5,594.6 L467.4,595.9 L469.3,596.6 L468.7,598.7 L467.5,600.4 L465.3,601.2 L462.9,601.2 L460.4,602.2 L457.5,602.0 L454.9,601.5Z" fill="#fbefb4"/>
<path d="M467.5,587.7 L468.8,586.7 L470.6,585.9 L471.9,587.4 L472.6,589.5 L471.1,591.1 L469.3,591.5 L468.1,589.6Z" fill="#fbefb4"/>
<path d="M473.1,590.3 L474.6,590.0 L476.1,591.0 L476.5,592.5 L475.6,594.1 L473.1,593.5 L472.7,591.6Z" fill="#fbefb4"/>
<path d="M497.2,575.8 L499.1,574.6 L500.9,573.0 L502.2,571.2 L504.5,570.2 L506.0,568.7 L506.6,570.8 L507.3,572.5 L505.4,573.8 L503.5,575.8 L500.8,576.2 L498.9,577.6Z" fill="#fbefb4"/>
<path d="M507.3,567.4 L508.6,565.5 L510.0,563.5 L511.1,561.1 L513.2,560.3 L515.0,559.0 L517.4,558.6 L519.2,560.0 L520.7,562.4 L520.6,564.4 L519.5,566.5 L519.2,568.7 L517.8,569.9 L516.2,571.8 L514.9,573.3 L512.2,573.1 L509.8,572.5 L509.0,569.9Z" fill="#fbefb4"/>
<path d="M523.8,567.4 L524.9,564.9 L526.8,562.4 L527.6,559.8 L529.9,558.9 L531.5,556.8 L533.9,555.5 L536.6,555.4 L539.5,554.8 L539.9,556.7 L541.6,558.7 L542.0,561.1 L542.3,564.2 L541.2,567.2 L541.0,570.0 L540.1,572.8 L537.8,574.7 L536.5,577.6 L534.0,578.2 L531.4,578.8 L530.1,577.1 L528.6,575.5 L526.8,574.3 L525.7,571.8 L525.0,569.9Z" fill="#fbefb4"/>
<path d="M517.4,592.8 L519.3,591.4 L520.7,589.5 L522.8,591.3 L525.0,592.8 L526.3,595.1 L527.7,597.0 L528.3,599.1 L527.2,601.4 L525.8,602.9 L523.6,600.8 L521.2,599.1 L520.3,597.2 L519.2,594.9Z" fill="#fbefb4"/>
<path d="M504.8,601.2 L506.6,599.6 L508.6,597.9 L510.9,597.1 L513.1,596.6 L513.3,598.3 L512.4,599.6 L510.5,600.6 L509.0,602.4 L507.3,602.9 L505.7,602.6Z" fill="#fbefb4"/>
<path d="M488.8,602.2 L490.8,602.3 L492.1,601.7 L494.1,604.1 L496.4,605.5 L497.2,607.5 L495.3,606.8 L492.9,606.7 L491.2,605.2 L490.8,603.4Z" fill="#fbefb4"/>
<path d="M523.3,620.7 L525.4,619.2 L527.6,617.4 L530.3,618.4 L532.6,619.4 L533.4,622.4 L534.4,625.0 L532.6,627.2 L531.4,629.5 L529.7,629.5 L527.6,629.0 L528.6,626.7 L530.1,624.5 L529.3,622.6 L527.6,621.4 L526.0,622.4 L524.3,624.0 L524.0,622.0Z" fill="#fbefb4"/>
<path d="M551.2,625.7 L552.8,625.2 L554.7,624.0 L556.8,625.0 L557.9,626.5 L559.8,627.5 L557.9,628.9 L555.5,629.5 L553.0,627.9Z" fill="#fbefb4"/>
<path d="M551.7,590.3 L553.4,588.7 L554.8,587.9 L556.7,586.5 L558.7,585.7 L560.4,583.8 L562.3,582.4 L564.3,581.4 L566.3,579.5 L568.7,578.5 L570.7,577.6 L573.5,578.2 L575.7,579.4 L574.1,581.3 L571.9,582.6 L570.0,584.6 L567.7,585.4 L565.6,586.5 L563.6,587.8 L561.2,589.8 L559.3,591.0 L556.5,592.5 L553.7,592.8 L553.0,591.5Z" fill="#fbefb4"/>
<path d="M530.1,584.4 L532.0,583.2 L533.9,583.4 L533.6,585.0 L534.4,586.5 L532.8,586.2 L530.9,587.0Z" fill="#fbefb4"/>
<path d="M539.0,579.4 L540.5,578.0 L542.8,577.6 L543.0,579.2 L544.1,580.9 L542.5,581.8 L540.3,581.4Z" fill="#fbefb4"/>
<path d="M543.5,581.4 L545.2,581.7 L547.1,580.9 L547.6,582.4 L547.9,583.9 L546.1,584.2 L544.6,583.9Z" fill="#fbefb4"/>
<path d="M554.2,561.1 L556.0,561.2 L558.0,560.1 L558.3,561.8 L558.8,563.6 L557.0,564.1 L555.2,564.1 L554.5,563.0Z" fill="#fbefb4"/>
<path d="M587.6,608.0 L589.9,606.5 L592.2,606.2 L594.5,605.1 L596.0,603.7 L598.0,604.5 L599.8,604.2 L600.9,606.4 L602.4,608.0 L600.5,609.6 L598.5,611.8 L596.3,613.6 L593.5,614.3 L590.9,614.1 L589.2,613.1 L587.9,610.4Z" fill="#fbefb4"/>
<path d="M588.4,573.3 L590.8,572.8 L592.8,572.5 L594.7,571.8 L597.1,571.9 L599.7,571.6 L601.9,570.3 L604.4,570.7 L603.6,572.8 L601.1,573.0 L599.4,573.4 L596.8,573.5 L594.7,574.3 L592.8,573.7 L590.8,573.6Z" fill="#fbefb4"/>
<path d="M568.1,526.1 L568.8,523.9 L570.6,522.0 L571.9,520.6 L574.4,518.9 L576.8,517.5 L579.5,516.8 L582.1,515.0 L584.3,514.4 L587.1,514.1 L589.7,512.4 L592.8,512.4 L595.3,511.7 L594.4,513.7 L594.2,515.5 L592.4,516.8 L590.3,518.6 L587.7,518.9 L585.9,520.6 L583.6,521.5 L581.6,523.4 L579.2,523.9 L577.0,525.1 L575.0,526.2 L572.7,526.4 L570.7,527.6Z" fill="#fbefb4"/>
<path d="M597.8,521.8 L600.1,520.4 L601.9,519.0 L602.8,516.5 L604.9,515.5 L607.1,516.7 L608.7,519.3 L607.5,521.5 L606.8,523.7 L606.2,525.6 L603.1,526.8 L600.3,526.9 L598.6,524.7Z" fill="#fbefb4"/>
<path d="M609.4,507.9 L610.9,506.3 L612.6,505.4 L613.8,503.3 L616.1,503.2 L618.2,502.6 L620.4,501.3 L622.6,500.8 L625.6,500.7 L628.5,500.9 L631.5,501.5 L633.5,502.6 L635.6,503.5 L637.8,504.1 L640.5,504.1 L642.9,503.3 L643.5,505.4 L644.9,506.6 L642.2,508.0 L640.4,509.9 L638.2,511.0 L635.6,511.4 L632.8,511.7 L630.8,513.2 L628.4,514.2 L626.4,515.5 L624.3,514.4 L622.8,512.9 L620.6,512.4 L618.1,512.5 L615.5,511.3 L613.0,511.7 L611.4,509.4Z" fill="#fbefb4"/>
<path d="M606.7,540.8 L608.6,540.0 L610.5,538.8 L612.1,540.7 L612.5,543.4 L612.2,545.6 L610.5,547.9 L608.9,547.2 L607.4,547.2 L607.6,545.3 L606.4,542.7Z" fill="#fbefb4"/>
<path d="M618.1,537.0 L620.4,538.8 L622.6,539.6 L624.1,541.4 L625.3,543.8 L626.4,546.4 L624.5,548.1 L622.6,548.4 L621.1,545.5 L619.6,543.4 L619.1,541.0 L619.0,539.0Z" fill="#fbefb4"/>
<path d="M623.1,554.8 L625.1,554.1 L627.7,553.5 L629.5,555.1 L629.6,557.2 L631.5,558.6 L631.4,560.7 L632.7,562.7 L632.8,564.9 L631.4,565.6 L629.7,566.2 L628.2,564.3 L627.4,562.6 L625.7,561.1 L625.2,559.0 L624.5,556.6Z" fill="#fbefb4"/>
<path d="M631.5,566.2 L633.7,566.4 L635.4,567.3 L637.8,567.4 L639.8,569.0 L641.7,571.1 L644.2,572.5 L643.4,575.0 L642.9,577.6 L640.6,578.2 L638.8,578.3 L636.6,578.8 L635.3,577.0 L634.4,575.4 L632.8,573.8 L632.2,571.2 L631.7,568.7Z" fill="#fbefb4"/>
<path d="M635.3,530.2 L637.0,530.0 L639.1,529.4 L639.9,530.9 L639.9,532.7 L638.0,532.6 L636.3,533.2 L635.8,531.8Z" fill="#fbefb4"/>
<path d="M445.7,589.0 L448.2,588.5 L448.3,589.9 L448.8,591.5 L446.2,592.0 L445.6,590.8Z" fill="#fbefb4"/>
<path d="M633.8,593.8 L635.5,591.2 L637.8,589.8 L640.0,587.5 L642.2,586.8 L643.9,585.0 L645.6,583.2 L647.5,582.5 L650.2,581.6 L652.4,581.8 L655.1,580.8 L657.5,580.0 L659.8,580.7 L661.7,581.2 L663.8,581.2 L663.2,583.8 L662.5,586.2 L660.1,587.0 L657.4,587.6 L654.8,587.6 L652.5,588.8 L650.3,590.1 L648.0,590.1 L646.0,592.3 L643.8,592.5 L641.7,593.5 L640.3,595.0 L638.8,596.2 L638.0,598.4 L636.2,600.0 L636.0,597.5 L634.0,595.8Z" fill="#fbefb4"/>
<path d="M648.8,605.4 L651.4,604.5 L654.0,606.0 L654.4,608.6 L653.1,609.1 L652.0,610.4 L649.2,609.3 L648.9,607.7Z" fill="#fbefb4"/>
<path d="M659.4,617.4 L662.1,616.5 L664.0,618.8 L665.8,621.1 L668.3,622.7 L670.4,623.9 L669.5,626.3 L667.0,624.9 L664.9,623.9 L662.9,621.8 L660.6,621.1 L660.7,619.1Z" fill="#fbefb4"/>
<path d="M691.6,609.1 L692.8,607.5 L693.0,605.4 L694.4,603.6 L697.1,602.7 L699.0,600.8 L699.2,603.8 L700.5,606.4 L699.7,608.2 L699.9,610.6 L699.9,612.8 L697.7,611.9 L696.2,610.0 L693.9,610.1Z" fill="#fbefb4"/>
<path d="M675.4,638.6 L677.4,637.4 L679.6,637.3 L681.1,638.2 L683.3,637.7 L682.4,640.5 L679.3,640.1 L676.9,641.0Z" fill="#fbefb4"/>
<path d="M688.4,647.4 L690.2,645.4 L692.7,643.1 L694.3,640.7 L695.9,638.4 L697.2,636.5 L699.4,634.5 L700.9,632.7 L702.6,630.8 L704.8,629.4 L707.4,628.3 L709.3,626.5 L712.3,626.3 L714.8,625.2 L716.8,623.4 L719.0,622.9 L721.1,621.7 L723.2,620.0 L725.2,618.9 L726.1,621.1 L726.2,622.6 L726.4,624.9 L725.4,627.6 L725.0,630.4 L723.5,632.9 L722.8,635.4 L721.6,638.4 L720.3,640.5 L718.7,643.4 L718.4,646.5 L716.8,648.9 L715.4,651.1 L715.3,653.4 L713.1,652.2 L710.8,651.9 L709.1,653.6 L707.2,655.1 L704.8,656.0 L703.3,657.9 L701.6,659.9 L700.6,662.0 L698.5,663.0 L697.4,665.4 L695.2,666.2 L693.5,667.4 L692.3,669.0 L691.2,666.1 L690.5,663.4 L689.9,660.9 L690.4,658.2 L690.8,655.9 L690.5,653.4 L689.1,651.3 L689.5,649.1Z" fill="#fbefb4"/>
<path d="M653.3,669.3 L655.0,668.3 L656.3,666.9 L656.8,670.0 L656.6,672.8 L656.3,675.9 L655.9,678.0 L655.3,680.3 L654.3,682.2 L653.9,684.8 L653.9,687.4 L654.0,689.7 L655.0,691.5 L655.4,693.8 L656.4,696.0 L655.8,698.7 L656.9,701.3 L655.8,703.9 L654.2,705.5 L652.1,707.1 L650.9,709.4 L648.7,707.4 L646.4,705.8 L646.5,703.3 L645.9,700.9 L646.4,698.3 L645.6,696.4 L644.4,694.5 L644.3,692.3 L645.5,689.7 L646.5,687.1 L648.5,684.8 L649.5,682.7 L649.5,680.5 L650.8,678.3 L650.9,675.9 L652.1,673.9 L653.1,671.5Z" fill="#fbefb4"/>
<path d="M627.6,711.8 L629.6,710.7 L631.7,709.7 L632.9,708.2 L635.4,708.5 L638.0,707.2 L640.4,707.3 L639.5,708.8 L638.9,710.9 L636.2,712.1 L633.5,713.2 L631.5,714.8 L629.6,713.4Z" fill="#fbefb4"/>
<path d="M817.2,644.4 L819.0,643.4 L821.1,643.5 L822.0,645.2 L821.7,647.4 L820.0,647.5 L818.1,647.4 L817.2,645.9Z" fill="#fbefb4"/>
<path d="M380.0,668.5 L381.3,667.9 L383.0,667.6 L383.4,669.7 L383.6,672.4 L380.6,672.4 L380.8,670.2Z" fill="#fbefb4"/>
<path d="M387.7,380.8 L389.2,379.1 L390.7,378.0 L391.7,376.8 L393.5,376.2 L395.4,376.8 L396.3,378.0 L397.0,380.8 L395.6,381.5 L394.2,382.9 L392.4,383.1 L390.7,383.1 L389.1,381.7Z" fill="#fdd49e"/>
<path d="M401.8,376.6 L403.9,376.6 L405.3,379.1 L407.3,380.8 L408.8,382.6 L411.5,383.5 L413.2,384.3 L415.6,384.2 L414.9,387.0 L412.8,387.5 L410.8,389.1 L408.8,388.0 L406.6,387.0 L405.6,384.8 L404.6,382.9 L403.8,381.0 L402.5,379.4Z" fill="#fdd49e"/>
<path d="M418.4,381.5 L420.2,379.1 L421.8,376.6 L422.9,375.1 L424.6,373.4 L425.3,371.1 L427.4,369.7 L429.2,371.8 L428.8,373.7 L428.1,375.3 L425.9,377.0 L424.6,379.4 L423.3,381.7 L421.2,382.9 L420.0,382.3Z" fill="#fdd49e"/>
<path d="M426.7,377.3 L428.8,375.3 L429.7,377.3 L428.8,380.1 L427.1,379.0Z" fill="#fdd49e"/>
<path d="M433.3,364.2 L435.7,362.4 L437.1,364.9 L436.1,367.6 L433.9,367.6 L434.2,366.0Z" fill="#fdd49e"/>
<path d="M440.5,360.0 L441.0,358.8 L442.2,357.3 L443.3,359.4 L442.7,361.0 L441.9,362.8 L441.0,361.5Z" fill="#fdd49e"/>
<path d="M452.3,362.8 L453.6,362.4 L453.7,364.2 L453.6,365.6 L452.5,365.6Z" fill="#fdd49e"/>
<path d="M437.1,386.3 L438.8,386.3 L439.0,387.8 L438.8,389.8 L437.1,389.5 L436.6,388.0Z" fill="#fdd49e"/>
<path d="M461.9,399.4 L464.0,397.4 L465.4,397.9 L466.8,398.8 L468.7,400.4 L470.9,401.5 L471.4,403.4 L471.6,405.0 L472.4,407.0 L474.4,408.4 L476.4,409.8 L477.8,411.9 L478.3,413.4 L477.6,415.3 L475.7,416.0 L473.7,417.1 L471.4,416.4 L469.5,415.3 L467.5,413.6 L466.8,411.2 L465.9,409.6 L465.4,407.7 L462.6,407.1 L461.6,406.1 L461.2,404.3 L461.7,401.6Z" fill="#fdd49e"/>
<path d="M373.0,522.4 L374.5,521.7 L375.9,520.7 L377.7,521.9 L380.0,523.0 L381.4,524.2 L383.4,525.3 L384.8,526.1 L386.9,526.5 L389.7,527.0 L391.1,528.1 L392.6,528.8 L394.0,530.7 L396.1,532.2 L397.2,533.9 L395.9,534.2 L394.4,535.1 L392.1,534.5 L390.3,532.2 L388.3,532.0 L386.9,531.1 L385.4,530.2 L383.4,529.9 L381.9,528.7 L380.0,528.2 L378.0,527.0 L375.9,526.5 L373.6,524.7Z" fill="#fdd49e"/>
<path d="M382.8,518.4 L384.6,516.1 L387.4,515.9 L389.2,517.8 L388.2,519.5 L388.6,521.3 L386.9,523.6 L385.1,521.8 L383.4,520.1Z" fill="#fdd49e"/>
<path d="M392.6,526.5 L394.4,524.1 L396.1,525.3 L396.7,527.0 L394.4,527.6Z" fill="#fdd49e"/>
<path d="M390.3,505.7 L392.2,505.0 L393.8,504.3 L396.7,503.7 L399.5,504.3 L399.0,506.9 L398.1,509.0 L396.7,510.3 L394.4,512.1 L392.6,509.7 L391.5,507.4Z" fill="#fdd49e"/>
<path d="M382.8,510.9 L385.1,509.7 L386.3,510.9 L384.6,512.6Z" fill="#fdd49e"/>
<path d="M389.2,491.9 L391.5,490.7 L392.4,489.1 L393.2,487.3 L394.6,486.4 L395.5,485.0 L397.8,486.1 L397.2,489.0 L396.0,490.4 L395.5,491.9 L393.8,493.4 L392.6,494.8 L389.7,494.2Z" fill="#fdd49e"/>
<path d="M386.3,544.9 L388.1,543.8 L390.3,543.2 L392.5,542.4 L394.0,541.3 L396.1,540.3 L398.6,540.2 L400.7,539.5 L400.1,540.9 L397.8,542.0 L395.5,543.2 L393.0,543.9 L390.3,545.5 L388.3,545.6 L386.9,546.3Z" fill="#fdd49e"/>
<path d="M381.7,542.4 L384.6,542.0 L384.6,543.7 L382.3,543.7Z" fill="#fdd49e"/>
<path d="M367.9,548.3 L369.6,547.4 L371.5,548.3 L372.5,549.5 L373.6,551.8 L371.3,552.0 L370.4,550.6 L369.0,550.1Z" fill="#fdd49e"/>
<path d="M438.1,514.4 L438.3,512.2 L438.4,510.3 L439.3,508.0 L441.0,506.3 L441.2,508.6 L440.3,511.4 L439.9,514.4 L438.7,515.5Z" fill="#fdd49e"/>
<path d="M423.7,529.0 L426.0,529.9 L426.6,531.6 L424.3,530.5Z" fill="#fdd49e"/>
<path d="M353.8,630.0 L355.2,628.0 L357.5,626.2 L358.7,628.1 L360.4,630.0 L362.5,631.2 L364.5,632.6 L366.3,634.5 L367.5,636.2 L366.1,638.5 L366.5,641.4 L365.0,643.8 L362.5,645.0 L360.0,646.2 L359.2,644.1 L358.0,642.8 L356.2,641.2 L355.8,639.3 L355.7,637.1 L355.0,635.0 L355.1,632.4Z" fill="#fdd49e"/>
<path d="M512.9,705.0 L514.8,704.1 L516.7,704.2 L517.6,705.8 L517.5,707.5 L515.5,707.4 L513.7,708.0 L512.8,706.8Z" fill="#fdab76"/>
<path d="M433.1,756.2 L435.3,755.8 L436.9,754.9 L438.8,756.7 L439.4,758.7 L437.3,759.2 L435.6,760.0 L434.8,758.0Z" fill="#fdab76"/>
</g>
<path d="M577.7,386.3 L579.2,382.1 L582.0,378.5 L586.3,377.1 L589.9,378.5 L589.1,381.3 L584.9,384.2 L580.6,386.3Z" fill="#cce5ff" stroke="#2c2c2c" stroke-width="0.7" stroke-linejoin="round"/>
<path d="M601.3,386.3 L603.4,384.9 L605.8,387.0 L607.2,391.3 L605.2,390.6 L602.7,388.7Z" fill="#cce5ff" stroke="#2c2c2c" stroke-width="0.7" stroke-linejoin="round"/>
<path d="M618.3,436.9 L620.5,436.2 L621.9,441.2 L619.8,444.0 L618.3,440.5Z" fill="#d4d4d4" stroke="#a9a9a9" stroke-width="0.8"/>
</g>
<circle cx="374.7" cy="213.1" r="25.5" fill="rgb(150, 82, 22)" fill-opacity="0.22"/>
<circle cx="374.7" cy="213.1" r="24.5" fill="none" stroke="rgb(212, 153, 120)" stroke-opacity="0.5" stroke-width="2"/>
<text x="374.9" y="219.9" font-size="16.9" text-anchor="middle" fill="#000">+0.8</text>
<circle cx="199.9" cy="347.3" r="25.5" fill="rgb(150, 82, 22)" fill-opacity="0.22"/>
<circle cx="199.9" cy="347.3" r="24.5" fill="none" stroke="rgb(212, 153, 120)" stroke-opacity="0.5" stroke-width="2"/>
<text x="200.1" y="354.1" font-size="16.9" text-anchor="middle" fill="#000">+0.9</text>
<circle cx="307.6" cy="340.9" r="25.5" fill="rgb(162, 77, 19)" fill-opacity="0.22"/>
<circle cx="307.6" cy="340.9" r="24.5" fill="none" stroke="rgb(211, 147, 95)" stroke-opacity="0.5" stroke-width="2"/>
<text x="307.8" y="347.7" font-size="16.9" text-anchor="middle" fill="#000">+1.5</text>
<circle cx="381.4" cy="452.6" r="25.5" fill="rgb(162, 77, 19)" fill-opacity="0.22"/>
<circle cx="381.4" cy="452.6" r="24.5" fill="none" stroke="rgb(211, 147, 95)" stroke-opacity="0.5" stroke-width="2"/>
<text x="381.59999999999997" y="459.40000000000003" font-size="16.9" text-anchor="middle" fill="#000">+1.9</text>
<circle cx="302.7" cy="517.9" r="25.5" fill="rgb(148, 21, 32)" fill-opacity="0.22"/>
<circle cx="302.7" cy="517.9" r="24.5" fill="none" stroke="rgb(186, 72, 45)" stroke-opacity="0.5" stroke-width="2"/>
<text x="302.9" y="524.6999999999999" font-size="16.9" text-anchor="middle" fill="#000">+2.0</text>
<circle cx="546.0" cy="498.2" r="25.5" fill="rgb(140, 74, 73)" fill-opacity="0.22"/>
<circle cx="546.0" cy="498.2" r="24.5" fill="none" stroke="rgb(200, 155, 145)" stroke-opacity="0.5" stroke-width="2"/>
<text x="546.2" y="505.0" font-size="16.9" text-anchor="middle" fill="#000">+1.2</text>
<circle cx="499.8" cy="729.3" r="25.5" fill="rgb(148, 21, 32)" fill-opacity="0.22"/>
<circle cx="499.8" cy="729.3" r="24.5" fill="none" stroke="rgb(186, 72, 45)" stroke-opacity="0.5" stroke-width="2"/>
<text x="500.0" y="736.0999999999999" font-size="16.9" text-anchor="middle" fill="#000">+2.0</text>
<rect x="68.6" y="120.8" width="780.4" height="674" fill="none" stroke="#484848" stroke-width="1.4"/>
<line x1="50" y1="120.8" x2="68" y2="120.8" stroke="#484848" stroke-width="1.1"/>
<text x="40.8" y="125.8" font-size="12.2" text-anchor="end" fill="#111">42°N</text>
<line x1="50" y1="212.8" x2="68" y2="212.8" stroke="#484848" stroke-width="1.1"/>
<text x="40.8" y="217.8" font-size="12.2" text-anchor="end" fill="#111">41°N</text>
<line x1="50" y1="303.8" x2="68" y2="303.8" stroke="#484848" stroke-width="1.1"/>
<text x="40.8" y="308.8" font-size="12.2" text-anchor="end" fill="#111">40°N</text>
<line x1="50" y1="393.8" x2="68" y2="393.8" stroke="#484848" stroke-width="1.1"/>
<text x="40.8" y="398.8" font-size="12.2" text-anchor="end" fill="#111">39°N</text>
<line x1="50" y1="483.8" x2="68" y2="483.8" stroke="#484848" stroke-width="1.1"/>
<text x="40.8" y="488.8" font-size="12.2" text-anchor="end" fill="#111">38°N</text>
<line x1="50" y1="571.8" x2="68" y2="571.8" stroke="#484848" stroke-width="1.1"/>
<text x="40.8" y="576.8" font-size="12.2" text-anchor="end" fill="#111">37°N</text>
<line x1="50" y1="657.8" x2="68" y2="657.8" stroke="#484848" stroke-width="1.1"/>
<text x="40.8" y="662.8" font-size="12.2" text-anchor="end" fill="#111">36°N</text>
<line x1="50" y1="743.8" x2="68" y2="743.8" stroke="#484848" stroke-width="1.1"/>
<text x="40.8" y="748.8" font-size="12.2" text-anchor="end" fill="#111">35°N</text>
<line x1="151.5" y1="795" x2="151.5" y2="813.3" stroke="#484848" stroke-width="1.1"/>
<text x="151.5" y="831.6" font-size="12.3" text-anchor="middle" fill="#111">20°E</text>
<line x1="291" y1="795" x2="291" y2="813.3" stroke="#484848" stroke-width="1.1"/>
<text x="291" y="831.6" font-size="12.3" text-anchor="middle" fill="#111">22°E</text>
<line x1="430.3" y1="795" x2="430.3" y2="813.3" stroke="#484848" stroke-width="1.1"/>
<text x="430.3" y="831.6" font-size="12.3" text-anchor="middle" fill="#111">24°E</text>
<line x1="569.3" y1="795" x2="569.3" y2="813.3" stroke="#484848" stroke-width="1.1"/>
<text x="569.3" y="831.6" font-size="12.3" text-anchor="middle" fill="#111">26°E</text>
<line x1="708.5" y1="795" x2="708.5" y2="813.3" stroke="#484848" stroke-width="1.1"/>
<text x="708.5" y="831.6" font-size="12.3" text-anchor="middle" fill="#111">28°E</text>
<rect x="193.6" y="845" width="42.36" height="15.4" fill="#5aa9f0" stroke="#666" stroke-width="0.7"/>
<rect x="236.0" y="845" width="42.36" height="15.4" fill="#74cdf8" stroke="#666" stroke-width="0.7"/>
<rect x="278.3" y="845" width="42.36" height="15.4" fill="#95e3fa" stroke="#666" stroke-width="0.7"/>
<rect x="320.7" y="845" width="42.36" height="15.4" fill="#b5f5fc" stroke="#666" stroke-width="0.7"/>
<rect x="363.0" y="845" width="42.36" height="15.4" fill="#e2fdfd" stroke="#666" stroke-width="0.7"/>
<rect x="405.4" y="845" width="42.36" height="15.4" fill="#ffffff" stroke="#666" stroke-width="0.7"/>
<rect x="447.8" y="845" width="42.36" height="15.4" fill="#fffde6" stroke="#666" stroke-width="0.7"/>
<rect x="490.1" y="845" width="42.36" height="15.4" fill="#fdefb8" stroke="#666" stroke-width="0.7"/>
<rect x="532.5" y="845" width="42.36" height="15.4" fill="#fdd49a" stroke="#666" stroke-width="0.7"/>
<rect x="574.8" y="845" width="42.36" height="15.4" fill="#fcaa72" stroke="#666" stroke-width="0.7"/>
<rect x="617.2" y="845" width="42.36" height="15.4" fill="#f97b55" stroke="#666" stroke-width="0.7"/>
<path d="M193.6,845 L152,852.7 L193.6,860.4Z" fill="#2f5fea" stroke="#2f5fea" stroke-width="0.5"/>
<path d="M659.6,845 L702.7,852.7 L659.6,860.4Z" fill="#ee3e3a" stroke="#ee3e3a" stroke-width="0.5"/>
<text x="193.6" y="874.5" font-size="12.5" text-anchor="middle" fill="#111">-3</text>
<text x="236.0" y="874.5" font-size="12.5" text-anchor="middle" fill="#111">-2.5</text>
<text x="278.3" y="874.5" font-size="12.5" text-anchor="middle" fill="#111">-2</text>
<text x="320.7" y="874.5" font-size="12.5" text-anchor="middle" fill="#111">-1.5</text>
<text x="363.0" y="874.5" font-size="12.5" text-anchor="middle" fill="#111">-1</text>
<text x="405.4" y="874.5" font-size="12.5" text-anchor="middle" fill="#111">-0.5</text>
<text x="447.8" y="874.5" font-size="12.5" text-anchor="middle" fill="#111">0.5</text>
<text x="490.1" y="874.5" font-size="12.5" text-anchor="middle" fill="#111">1</text>
<text x="532.5" y="874.5" font-size="12.5" text-anchor="middle" fill="#111">1.5</text>
<text x="574.8" y="874.5" font-size="12.5" text-anchor="middle" fill="#111">2</text>
<text x="617.2" y="874.5" font-size="12.5" text-anchor="middle" fill="#111">2.5</text>
<text x="659.6" y="874.5" font-size="12.5" text-anchor="middle" fill="#111">3</text>
<text x="416.3" y="907.8" font-size="19.5" fill="#111" textLength="19.6" lengthAdjust="spacingAndGlyphs">°C</text>
<text x="89.7" y="768.3" font-size="28" font-weight="bold" fill="#000" textLength="155.5" lengthAdjust="spacingAndGlyphs">Μάιος 2021</text>
<text x="136.2" y="35.6" font-size="31" fill="#111" textLength="601.5" lengthAdjust="spacingAndGlyphs">Απόκλιση μέγιστης θερμοκρασίας από τη</text>
<text x="187.2" y="79.5" font-size="31" fill="#111" textLength="513" lengthAdjust="spacingAndGlyphs">μέση τιμή της περιόδου 2010-2019</text>
<path d="M745.4,843.4 L760.1,843.4 L773.1,855.1 L786.1,843.4 L800.8,843.4 L800.8,874.5 L786.1,874.5 L786.1,864.6 L777,872.8 Q773.1,875.6 769.2,872.8 L760.1,864.6 L760.1,874.5 L745.4,874.5 Z" fill="#2222c8"/>
<circle cx="745.4" cy="843.4" r="9.4" fill="#f5d033"/>
<text x="807.6" y="854.2" font-size="14.4" fill="#2a2ad0" textLength="44" lengthAdjust="spacingAndGlyphs">Meteo</text>
<text x="807.8" y="865.7" font-size="8.3" fill="#3535d0" textLength="30" lengthAdjust="spacingAndGlyphs">Όλα για</text>
<text x="807.8" y="873.4" font-size="8.3" fill="#3535d0" textLength="36" lengthAdjust="spacingAndGlyphs">τον καιρό</text>
<text x="709.5" y="889.8" font-size="8" fill="#222" textLength="156.5" lengthAdjust="spacingAndGlyphs">National Observatory of Athens - meteo.gr</text>
</svg></div></body></html>
